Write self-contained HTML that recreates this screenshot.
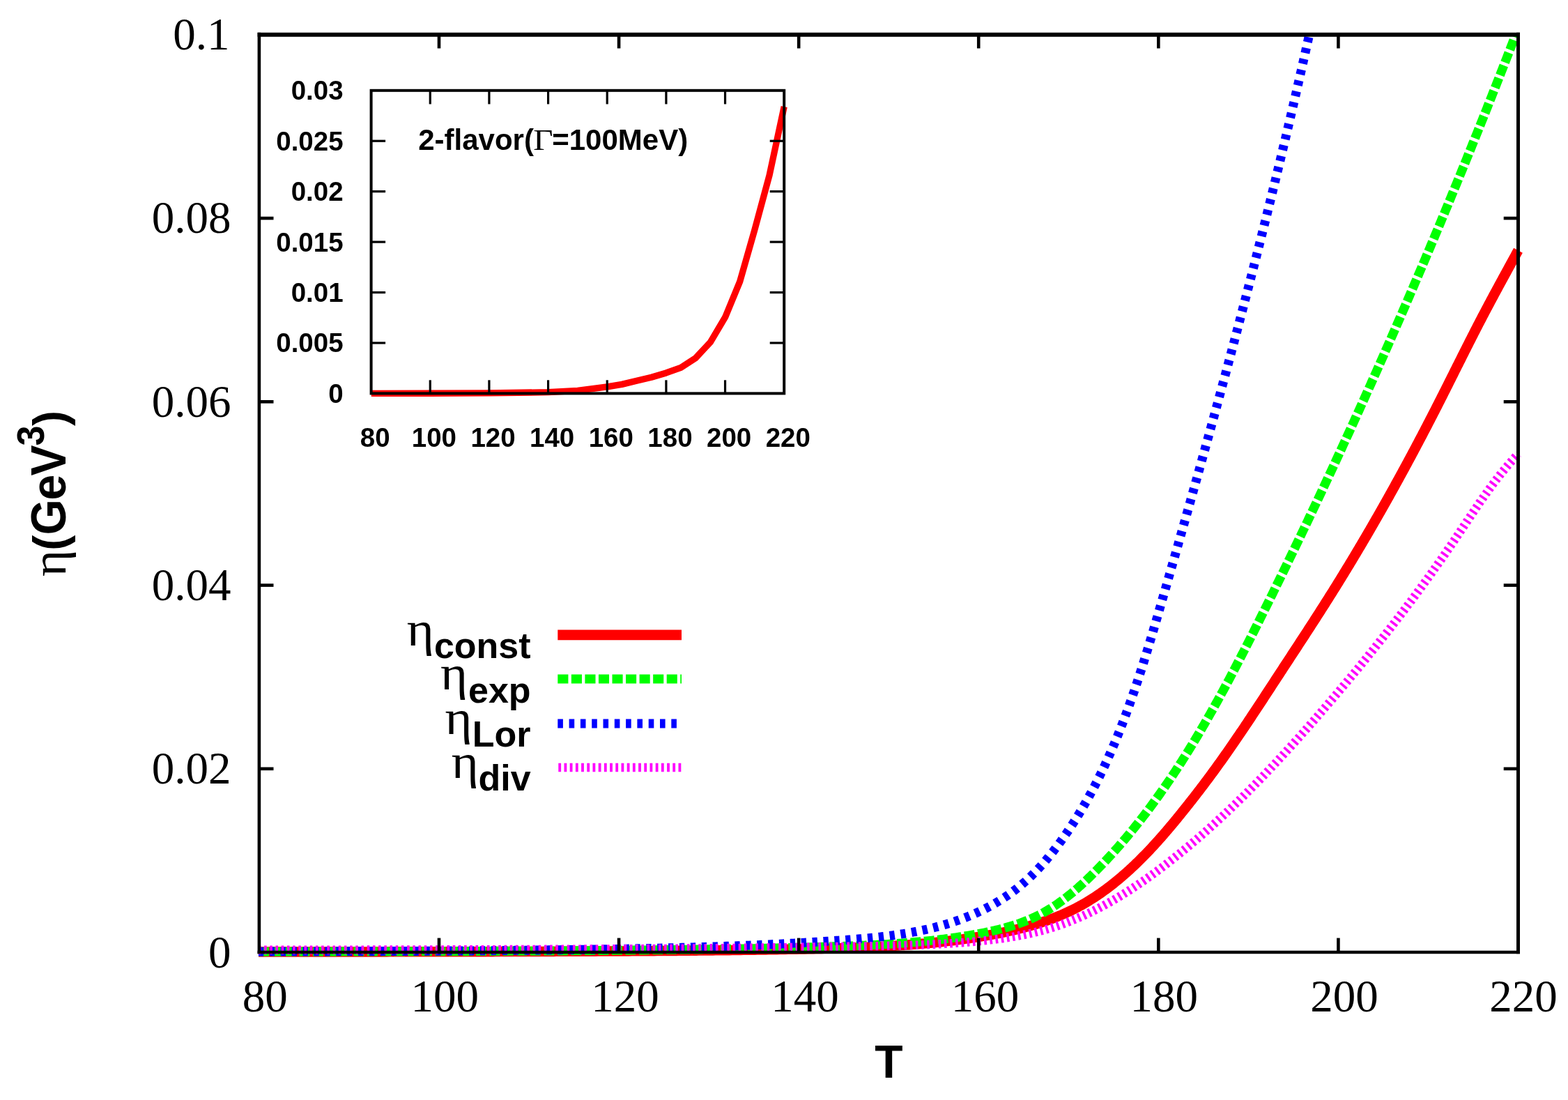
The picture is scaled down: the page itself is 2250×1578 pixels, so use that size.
<!DOCTYPE html><html><head><meta charset="utf-8"><style>html,body{margin:0;padding:0;background:#fff;width:2250px;height:1578px;overflow:hidden}svg{display:block}</style></head><body>
<svg width="2250" height="1578" viewBox="0 0 2250 1578">
<rect width="2250" height="1578" fill="#fff"/>
<defs><clipPath id="mainclip"><rect x="370.9" y="48.8" width="1818.6" height="1336.3"/></clipPath></defs>
<path d="M370.90,1365.51 L374.90,1365.51 L378.90,1365.51 L382.90,1365.50 L386.90,1365.50 L390.90,1365.50 L394.90,1365.50 L398.90,1365.50 L402.90,1365.49 L406.90,1365.49 L410.90,1365.49 L414.90,1365.49 L418.90,1365.49 L422.90,1365.48 L426.90,1365.48 L430.90,1365.48 L434.90,1365.48 L438.90,1365.47 L442.90,1365.47 L446.90,1365.47 L450.90,1365.47 L454.90,1365.46 L458.90,1365.46 L462.90,1365.46 L466.90,1365.45 L470.90,1365.45 L474.90,1365.45 L478.90,1365.45 L482.90,1365.44 L486.90,1365.44 L490.90,1365.44 L494.90,1365.43 L498.90,1365.43 L502.90,1365.43 L506.90,1365.42 L510.90,1365.42 L514.90,1365.42 L518.90,1365.41 L522.90,1365.41 L526.90,1365.41 L530.90,1365.40 L534.90,1365.40 L538.90,1365.39 L542.90,1365.39 L546.90,1365.39 L550.90,1365.38 L554.90,1365.38 L558.90,1365.37 L562.90,1365.37 L566.90,1365.36 L570.90,1365.36 L574.90,1365.35 L578.90,1365.35 L582.90,1365.34 L586.90,1365.34 L590.90,1365.33 L594.90,1365.33 L598.90,1365.32 L602.90,1365.32 L606.90,1365.31 L610.90,1365.31 L614.90,1365.30 L618.90,1365.30 L622.90,1365.29 L626.90,1365.28 L630.90,1365.28 L634.90,1365.27 L638.90,1365.26 L642.90,1365.26 L646.90,1365.25 L650.90,1365.24 L654.90,1365.24 L658.90,1365.23 L662.90,1365.22 L666.90,1365.21 L670.90,1365.21 L674.90,1365.20 L678.90,1365.19 L682.90,1365.18 L686.90,1365.17 L690.90,1365.17 L694.90,1365.16 L698.90,1365.15 L702.90,1365.14 L706.90,1365.13 L710.90,1365.12 L714.90,1365.11 L718.90,1365.10 L722.90,1365.09 L726.90,1365.08 L730.90,1365.07 L734.90,1365.06 L738.90,1365.05 L742.90,1365.04 L746.90,1365.03 L750.90,1365.02 L754.90,1365.01 L758.90,1365.00 L762.90,1364.98 L766.90,1364.97 L770.90,1364.96 L774.90,1364.95 L778.90,1364.93 L782.90,1364.92 L786.90,1364.91 L790.90,1364.89 L794.90,1364.88 L798.90,1364.86 L802.90,1364.85 L806.90,1364.84 L810.90,1364.82 L814.90,1364.81 L818.90,1364.79 L822.90,1364.77 L826.90,1364.76 L830.90,1364.74 L834.90,1364.72 L838.90,1364.71 L842.90,1364.69 L846.90,1364.67 L850.90,1364.65 L854.90,1364.63 L858.90,1364.61 L862.90,1364.59 L866.90,1364.57 L870.90,1364.55 L874.90,1364.53 L878.90,1364.51 L882.90,1364.49 L886.90,1364.47 L890.90,1364.45 L894.90,1364.42 L898.90,1364.40 L902.90,1364.38 L906.90,1364.35 L910.90,1364.33 L914.90,1364.30 L918.90,1364.28 L922.90,1364.25 L926.90,1364.23 L930.90,1364.20 L934.90,1364.17 L938.90,1364.14 L942.90,1364.11 L946.90,1364.08 L950.90,1364.05 L954.90,1364.02 L958.90,1363.99 L962.90,1363.96 L966.90,1363.93 L970.90,1363.90 L974.90,1363.86 L978.90,1363.83 L982.90,1363.79 L986.90,1363.76 L990.90,1363.72 L994.90,1363.68 L998.90,1363.65 L1002.90,1363.61 L1006.90,1363.57 L1010.90,1363.53 L1014.90,1363.49 L1018.90,1363.44 L1022.90,1363.40 L1026.90,1363.36 L1030.90,1363.31 L1034.90,1363.27 L1038.90,1363.22 L1042.90,1363.18 L1046.90,1363.13 L1050.90,1363.08 L1054.90,1363.03 L1058.90,1362.98 L1062.90,1362.93 L1066.90,1362.87 L1070.90,1362.82 L1074.90,1362.77 L1078.90,1362.71 L1082.90,1362.65 L1086.90,1362.59 L1090.90,1362.54 L1094.90,1362.47 L1098.90,1362.41 L1102.90,1362.35 L1106.90,1362.29 L1110.90,1362.22 L1114.90,1362.15 L1118.90,1362.09 L1122.90,1362.02 L1126.90,1361.95 L1130.90,1361.87 L1134.90,1361.80 L1138.90,1361.72 L1142.90,1361.65 L1146.90,1361.57 L1150.90,1361.49 L1154.90,1361.41 L1158.90,1361.33 L1162.90,1361.24 L1166.90,1361.16 L1170.90,1361.07 L1174.90,1360.98 L1178.90,1360.89 L1182.90,1360.79 L1186.90,1360.70 L1189.89,1360.63 L1192.33,1360.57 L1194.76,1360.51 L1197.20,1360.44 L1199.63,1360.38 L1202.06,1360.31 L1204.50,1360.25 L1206.93,1360.18 L1209.36,1360.10 L1211.79,1360.03 L1214.22,1359.96 L1216.65,1359.88 L1219.08,1359.80 L1221.51,1359.72 L1223.93,1359.64 L1226.36,1359.55 L1228.79,1359.47 L1231.21,1359.38 L1233.64,1359.29 L1236.06,1359.19 L1238.49,1359.10 L1240.91,1359.00 L1243.33,1358.90 L1245.76,1358.79 L1248.18,1358.69 L1250.60,1358.58 L1253.02,1358.47 L1255.44,1358.35 L1257.86,1358.23 L1260.29,1358.11 L1262.71,1357.99 L1265.13,1357.87 L1267.54,1357.74 L1269.96,1357.61 L1272.38,1357.47 L1274.80,1357.33 L1277.22,1357.19 L1279.64,1357.05 L1282.06,1356.90 L1284.48,1356.75 L1286.89,1356.59 L1289.31,1356.43 L1291.73,1356.27 L1294.15,1356.11 L1296.57,1355.94 L1298.98,1355.77 L1301.40,1355.59 L1303.82,1355.41 L1306.24,1355.23 L1308.66,1355.04 L1311.07,1354.85 L1313.49,1354.65 L1315.91,1354.45 L1318.33,1354.25 L1320.75,1354.04 L1323.17,1353.83 L1325.58,1353.61 L1328.00,1353.39 L1330.42,1353.16 L1332.84,1352.93 L1335.26,1352.70 L1337.68,1352.46 L1340.10,1352.22 L1342.52,1351.97 L1344.94,1351.72 L1347.36,1351.46 L1349.78,1351.20 L1352.21,1350.93 L1354.63,1350.66 L1357.05,1350.38 L1359.47,1350.10 L1361.90,1349.82 L1364.32,1349.52 L1366.75,1349.23 L1369.17,1348.93 L1371.60,1348.62 L1374.02,1348.31 L1376.45,1347.99 L1378.88,1347.66 L1381.30,1347.34 L1383.73,1347.00 L1386.16,1346.66 L1388.59,1346.32 L1391.02,1345.96 L1393.45,1345.61 L1395.88,1345.25 L1398.32,1344.88 L1400.75,1344.50 L1403.18,1344.12 L1405.62,1343.74 L1408.05,1343.34 L1410.48,1342.94 L1412.92,1342.54 L1415.35,1342.12 L1417.79,1341.70 L1420.22,1341.27 L1422.65,1340.84 L1425.08,1340.39 L1427.51,1339.94 L1429.94,1339.48 L1432.37,1339.01 L1434.79,1338.54 L1437.22,1338.05 L1439.64,1337.56 L1442.06,1337.05 L1444.47,1336.54 L1446.89,1336.02 L1449.30,1335.49 L1451.71,1334.94 L1454.11,1334.39 L1456.52,1333.83 L1458.91,1333.25 L1461.31,1332.67 L1463.70,1332.08 L1466.09,1331.47 L1468.47,1330.85 L1470.85,1330.22 L1473.22,1329.58 L1475.59,1328.93 L1477.96,1328.27 L1480.32,1327.59 L1482.67,1326.90 L1485.02,1326.20 L1487.37,1325.48 L1489.70,1324.76 L1492.04,1324.02 L1494.36,1323.26 L1496.68,1322.49 L1498.99,1321.71 L1501.30,1320.92 L1503.60,1320.11 L1505.89,1319.28 L1508.18,1318.44 L1510.46,1317.59 L1512.73,1316.72 L1514.99,1315.84 L1517.25,1314.94 L1519.49,1314.02 L1521.73,1313.09 L1523.96,1312.14 L1526.18,1311.18 L1528.40,1310.20 L1530.60,1309.21 L1532.80,1308.19 L1534.98,1307.16 L1537.16,1306.12 L1539.33,1305.05 L1541.48,1303.97 L1543.63,1302.87 L1545.77,1301.76 L1547.90,1300.62 L1550.01,1299.47 L1552.12,1298.30 L1554.22,1297.12 L1556.31,1295.92 L1558.39,1294.70 L1560.46,1293.47 L1562.52,1292.22 L1564.57,1290.95 L1566.61,1289.67 L1568.64,1288.37 L1570.67,1287.06 L1572.68,1285.73 L1574.68,1284.39 L1576.68,1283.04 L1578.67,1281.67 L1580.64,1280.28 L1582.61,1278.88 L1584.57,1277.47 L1586.52,1276.05 L1588.47,1274.61 L1590.40,1273.16 L1592.32,1271.69 L1594.24,1270.21 L1596.15,1268.72 L1598.05,1267.22 L1599.94,1265.70 L1601.82,1264.18 L1603.70,1262.64 L1605.56,1261.09 L1607.42,1259.53 L1609.27,1257.95 L1611.11,1256.37 L1612.95,1254.78 L1614.77,1253.17 L1616.59,1251.56 L1618.40,1249.93 L1620.21,1248.30 L1622.00,1246.65 L1623.79,1245.00 L1625.57,1243.33 L1627.34,1241.66 L1629.11,1239.98 L1630.86,1238.28 L1632.61,1236.58 L1634.36,1234.88 L1636.09,1233.16 L1637.82,1231.44 L1639.54,1229.70 L1641.26,1227.96 L1642.96,1226.22 L1644.67,1224.46 L1646.36,1222.70 L1648.05,1220.94 L1649.73,1219.16 L1651.40,1217.38 L1653.07,1215.59 L1654.73,1213.80 L1656.38,1212.00 L1658.03,1210.20 L1659.67,1208.39 L1661.30,1206.57 L1662.93,1204.75 L1664.55,1202.93 L1666.17,1201.10 L1667.78,1199.26 L1669.38,1197.42 L1670.98,1195.58 L1672.58,1193.73 L1674.17,1191.88 L1675.75,1190.02 L1677.33,1188.16 L1678.91,1186.29 L1680.48,1184.43 L1682.04,1182.55 L1683.60,1180.68 L1685.16,1178.80 L1686.71,1176.92 L1688.26,1175.04 L1689.80,1173.15 L1691.34,1171.26 L1692.88,1169.37 L1694.41,1167.47 L1695.94,1165.57 L1697.47,1163.68 L1698.99,1161.77 L1700.51,1159.87 L1702.03,1157.97 L1703.54,1156.06 L1705.06,1154.15 L1706.56,1152.24 L1708.07,1150.33 L1709.57,1148.42 L1711.07,1146.51 L1712.57,1144.59 L1714.07,1142.68 L1715.56,1140.76 L1717.05,1138.84 L1718.53,1136.91 L1720.01,1134.99 L1721.49,1133.07 L1722.97,1131.14 L1724.44,1129.21 L1725.91,1127.28 L1727.38,1125.34 L1728.84,1123.41 L1730.30,1121.47 L1731.75,1119.53 L1733.20,1117.59 L1734.65,1115.65 L1736.09,1113.70 L1737.53,1111.75 L1738.97,1109.80 L1740.40,1107.85 L1741.83,1105.90 L1743.26,1103.94 L1744.68,1101.98 L1746.10,1100.02 L1747.52,1098.06 L1748.93,1096.09 L1750.34,1094.13 L1751.75,1092.16 L1753.16,1090.19 L1754.56,1088.22 L1755.95,1086.24 L1757.35,1084.27 L1758.74,1082.29 L1760.13,1080.31 L1761.52,1078.33 L1762.90,1076.35 L1764.29,1074.37 L1765.66,1072.38 L1767.04,1070.39 L1768.42,1068.41 L1769.79,1066.42 L1771.16,1064.42 L1772.53,1062.43 L1773.89,1060.44 L1775.25,1058.44 L1776.62,1056.45 L1777.97,1054.45 L1779.33,1052.45 L1780.69,1050.45 L1782.04,1048.45 L1783.39,1046.44 L1784.74,1044.44 L1786.09,1042.43 L1787.44,1040.43 L1788.78,1038.42 L1790.12,1036.41 L1791.47,1034.40 L1792.81,1032.39 L1794.14,1030.38 L1795.48,1028.37 L1796.82,1026.35 L1798.15,1024.34 L1799.49,1022.32 L1800.82,1020.31 L1802.15,1018.29 L1803.48,1016.27 L1804.81,1014.26 L1806.14,1012.24 L1807.47,1010.22 L1808.80,1008.20 L1810.13,1006.18 L1811.45,1004.16 L1812.78,1002.14 L1814.10,1000.11 L1815.43,998.09 L1816.75,996.07 L1818.08,994.04 L1819.40,992.02 L1820.72,990.00 L1822.05,987.97 L1823.37,985.95 L1824.69,983.92 L1826.01,981.90 L1827.34,979.87 L1828.66,977.85 L1829.98,975.82 L1831.30,973.79 L1832.63,971.77 L1833.95,969.74 L1835.28,967.72 L1836.60,965.69 L1837.92,963.66 L1839.25,961.64 L1840.58,959.61 L1841.90,957.59 L1843.23,955.56 L1844.55,953.53 L1845.88,951.51 L1847.21,949.48 L1848.54,947.46 L1849.86,945.43 L1851.19,943.40 L1852.52,941.37 L1853.85,939.35 L1855.17,937.32 L1856.50,935.29 L1857.83,933.26 L1859.15,931.24 L1860.48,929.21 L1861.81,927.18 L1863.14,925.15 L1864.46,923.12 L1865.79,921.09 L1867.11,919.06 L1868.44,917.03 L1869.77,914.99 L1871.09,912.96 L1872.41,910.93 L1873.74,908.89 L1875.06,906.86 L1876.38,904.82 L1877.71,902.79 L1879.03,900.75 L1880.35,898.72 L1881.67,896.68 L1882.99,894.64 L1884.31,892.60 L1885.62,890.56 L1886.94,888.52 L1888.26,886.48 L1889.57,884.44 L1890.88,882.39 L1892.20,880.35 L1893.51,878.30 L1894.82,876.26 L1896.13,874.21 L1897.44,872.16 L1898.75,870.11 L1900.05,868.06 L1901.36,866.01 L1902.66,863.96 L1903.96,861.90 L1905.26,859.85 L1906.56,857.79 L1907.86,855.73 L1909.16,853.67 L1910.45,851.61 L1911.75,849.55 L1913.04,847.49 L1914.33,845.43 L1915.62,843.36 L1916.91,841.30 L1918.19,839.23 L1919.48,837.16 L1920.76,835.09 L1922.04,833.02 L1923.32,830.94 L1924.60,828.87 L1925.87,826.80 L1927.15,824.72 L1928.42,822.64 L1929.69,820.56 L1930.96,818.48 L1932.23,816.40 L1933.50,814.32 L1934.77,812.23 L1936.03,810.15 L1937.29,808.06 L1938.55,805.98 L1939.81,803.89 L1941.07,801.80 L1942.33,799.71 L1943.58,797.62 L1944.83,795.52 L1946.09,793.43 L1947.34,791.33 L1948.58,789.24 L1949.83,787.14 L1951.08,785.04 L1952.32,782.94 L1953.56,780.84 L1954.80,778.74 L1956.04,776.64 L1957.28,774.53 L1958.52,772.43 L1959.75,770.32 L1960.99,768.22 L1962.22,766.11 L1963.45,764.00 L1964.68,761.89 L1965.91,759.78 L1967.13,757.66 L1968.36,755.55 L1969.58,753.44 L1970.80,751.32 L1972.02,749.21 L1973.24,747.09 L1974.46,744.97 L1975.67,742.85 L1976.88,740.73 L1978.10,738.61 L1979.31,736.49 L1980.52,734.37 L1981.73,732.24 L1982.93,730.12 L1984.14,727.99 L1985.34,725.87 L1986.54,723.74 L1987.74,721.61 L1988.94,719.48 L1990.14,717.35 L1991.34,715.22 L1992.53,713.09 L1993.72,710.95 L1994.91,708.82 L1996.10,706.69 L1997.29,704.55 L1998.48,702.41 L1999.67,700.28 L2000.85,698.14 L2002.03,696.00 L2003.21,693.86 L2004.39,691.72 L2005.57,689.58 L2006.75,687.44 L2007.93,685.30 L2009.10,683.15 L2010.27,681.01 L2011.44,678.86 L2012.61,676.72 L2013.78,674.57 L2014.95,672.42 L2016.11,670.28 L2017.28,668.13 L2018.44,665.98 L2019.60,663.83 L2020.76,661.68 L2021.92,659.53 L2023.08,657.37 L2024.23,655.22 L2025.39,653.07 L2026.54,650.91 L2027.69,648.76 L2028.84,646.60 L2029.99,644.45 L2031.13,642.29 L2032.28,640.13 L2033.42,637.97 L2034.57,635.81 L2035.71,633.66 L2036.85,631.49 L2037.98,629.33 L2039.12,627.17 L2040.26,625.01 L2041.39,622.85 L2042.52,620.69 L2043.65,618.52 L2044.78,616.36 L2045.91,614.19 L2047.04,612.03 L2048.17,609.86 L2049.29,607.70 L2050.41,605.53 L2051.53,603.36 L2052.65,601.19 L2053.77,599.03 L2054.89,596.86 L2056.01,594.69 L2057.12,592.52 L2058.23,590.35 L2059.34,588.18 L2060.45,586.00 L2061.56,583.83 L2062.67,581.66 L2063.78,579.49 L2064.88,577.31 L2065.99,575.14 L2067.09,572.97 L2068.19,570.79 L2069.29,568.62 L2070.39,566.44 L2071.48,564.27 L2072.58,562.09 L2073.68,559.91 L2074.77,557.74 L2075.87,555.56 L2076.96,553.39 L2078.05,551.21 L2079.15,549.03 L2080.24,546.85 L2081.33,544.68 L2082.42,542.50 L2083.51,540.32 L2084.60,538.15 L2085.69,535.97 L2086.78,533.79 L2087.87,531.61 L2088.96,529.44 L2090.05,527.26 L2091.14,525.08 L2092.23,522.91 L2093.33,520.73 L2094.42,518.55 L2095.51,516.38 L2096.60,514.20 L2097.69,512.03 L2098.78,509.85 L2099.88,507.67 L2100.97,505.50 L2102.07,503.33 L2103.16,501.15 L2104.26,498.98 L2105.36,496.80 L2106.45,494.63 L2107.55,492.46 L2108.65,490.29 L2109.76,488.12 L2110.86,485.94 L2111.96,483.77 L2113.07,481.61 L2114.18,479.44 L2115.28,477.27 L2116.39,475.10 L2117.51,472.93 L2118.62,470.77 L2119.73,468.60 L2120.85,466.44 L2121.97,464.27 L2123.09,462.11 L2124.21,459.95 L2125.34,457.78 L2126.46,455.62 L2127.59,453.46 L2128.72,451.30 L2129.86,449.15 L2130.99,446.99 L2132.13,444.83 L2133.27,442.68 L2134.41,440.52 L2135.55,438.37 L2136.70,436.22 L2137.85,434.06 L2139.00,431.91 L2140.15,429.76 L2141.30,427.61 L2142.45,425.46 L2143.61,423.31 L2144.76,421.17 L2145.92,419.02 L2147.08,416.87 L2148.24,414.72 L2149.40,412.58 L2150.56,410.43 L2151.72,408.29 L2152.89,406.14 L2154.05,404.00 L2155.22,401.86 L2156.38,399.71 L2157.55,397.57 L2158.72,395.43 L2159.88,393.29 L2161.05,391.15 L2162.22,389.01 L2163.39,386.86 L2164.56,384.72 L2165.73,382.58 L2166.90,380.44 L2168.07,378.30 L2169.24,376.16 L2170.41,374.02 L2171.57,371.88 L2172.74,369.75 L2173.91,367.61 L2175.08,365.47 L2176.25,363.33 L2177.41,361.19 L2178.50,359.20 L2178.50,359.20" fill="none" stroke="#ff0000" stroke-width="14.5" stroke-linejoin="round" clip-path="url(#mainclip)"/>
<path d="M370.90,1365.30 L374.90,1365.30 L378.90,1365.29 L382.90,1365.29 L386.90,1365.28 L390.90,1365.28 L394.90,1365.27 L398.90,1365.27 L402.90,1365.26 L406.90,1365.26 L410.90,1365.25 L414.90,1365.25 L418.90,1365.24 L422.90,1365.23 L426.90,1365.23 L430.90,1365.22 L434.90,1365.22 L438.90,1365.21 L442.90,1365.20 L446.90,1365.20 L450.90,1365.19 L454.90,1365.19 L458.90,1365.18 L462.90,1365.17 L466.90,1365.17 L470.90,1365.16 L474.90,1365.15 L478.90,1365.14 L482.90,1365.14 L486.90,1365.13 L490.90,1365.12 L494.90,1365.11 L498.90,1365.11 L502.90,1365.10 L506.90,1365.09 L510.90,1365.08 L514.90,1365.07 L518.90,1365.07 L522.90,1365.06 L526.90,1365.05 L530.90,1365.04 L534.90,1365.03 L538.90,1365.02 L542.90,1365.01 L546.90,1365.00 L550.90,1364.99 L554.90,1364.98 L558.90,1364.97 L562.90,1364.96 L566.90,1364.95 L570.90,1364.94 L574.90,1364.93 L578.90,1364.92 L582.90,1364.91 L586.90,1364.90 L590.90,1364.89 L594.90,1364.88 L598.90,1364.87 L602.90,1364.86 L606.90,1364.84 L610.90,1364.83 L614.90,1364.82 L618.90,1364.81 L622.90,1364.79 L626.90,1364.78 L630.90,1364.77 L634.90,1364.76 L638.90,1364.74 L642.90,1364.73 L646.90,1364.71 L650.90,1364.70 L654.90,1364.69 L658.90,1364.67 L662.90,1364.66 L666.90,1364.64 L670.90,1364.63 L674.90,1364.61 L678.90,1364.59 L682.90,1364.58 L686.90,1364.56 L690.90,1364.55 L694.90,1364.53 L698.90,1364.51 L702.90,1364.49 L706.90,1364.48 L710.90,1364.46 L714.90,1364.44 L718.90,1364.42 L722.90,1364.40 L726.90,1364.38 L730.90,1364.36 L734.90,1364.34 L738.90,1364.32 L742.90,1364.30 L746.90,1364.28 L750.90,1364.26 L754.90,1364.24 L758.90,1364.22 L762.90,1364.20 L766.90,1364.18 L770.90,1364.15 L774.90,1364.13 L778.90,1364.11 L782.90,1364.08 L786.90,1364.06 L790.90,1364.03 L794.90,1364.01 L798.90,1363.98 L802.90,1363.96 L806.90,1363.93 L810.90,1363.90 L814.90,1363.88 L818.90,1363.85 L822.90,1363.82 L826.90,1363.79 L830.90,1363.77 L834.90,1363.74 L838.90,1363.71 L842.90,1363.68 L846.90,1363.65 L850.90,1363.61 L854.90,1363.58 L858.90,1363.55 L862.90,1363.52 L866.90,1363.48 L870.90,1363.45 L874.90,1363.42 L878.90,1363.38 L882.90,1363.35 L886.90,1363.31 L890.90,1363.27 L894.90,1363.24 L898.90,1363.20 L902.90,1363.16 L906.90,1363.12 L910.90,1363.08 L914.90,1363.04 L918.90,1363.00 L922.90,1362.96 L926.90,1362.92 L930.90,1362.87 L934.90,1362.83 L938.90,1362.79 L942.90,1362.74 L946.90,1362.70 L950.90,1362.65 L954.90,1362.60 L958.90,1362.56 L962.90,1362.51 L966.90,1362.46 L970.90,1362.41 L974.90,1362.36 L978.90,1362.30 L982.90,1362.25 L986.90,1362.20 L990.90,1362.14 L994.90,1362.09 L998.90,1362.03 L1002.90,1361.98 L1006.90,1361.92 L1010.90,1361.86 L1014.90,1361.80 L1018.90,1361.74 L1022.90,1361.68 L1026.90,1361.62 L1030.90,1361.55 L1034.90,1361.49 L1038.90,1361.42 L1042.90,1361.36 L1046.90,1361.29 L1050.90,1361.22 L1054.90,1361.15 L1058.90,1361.08 L1062.90,1361.01 L1066.90,1360.93 L1070.90,1360.86 L1074.90,1360.78 L1078.90,1360.71 L1082.90,1360.63 L1086.90,1360.55 L1090.90,1360.47 L1094.90,1360.39 L1098.90,1360.30 L1102.90,1360.22 L1106.90,1360.13 L1110.90,1360.05 L1114.90,1359.96 L1118.90,1359.87 L1122.90,1359.78 L1126.90,1359.68 L1130.90,1359.59 L1134.90,1359.49 L1138.90,1359.39 L1142.90,1359.30 L1146.90,1359.19 L1150.90,1359.09 L1154.90,1358.99 L1158.90,1358.88 L1162.90,1358.78 L1166.90,1358.67 L1170.90,1358.56 L1174.90,1358.44 L1178.90,1358.33 L1182.90,1358.21 L1186.90,1358.10 L1190.06,1358.00 L1192.84,1357.92 L1195.62,1357.83 L1198.40,1357.75 L1201.18,1357.66 L1203.96,1357.57 L1206.74,1357.48 L1209.53,1357.38 L1212.31,1357.29 L1215.09,1357.19 L1217.87,1357.09 L1220.66,1356.99 L1223.44,1356.88 L1226.23,1356.77 L1229.01,1356.66 L1231.79,1356.55 L1234.58,1356.44 L1237.36,1356.32 L1240.15,1356.20 L1242.93,1356.07 L1245.72,1355.94 L1248.51,1355.81 L1251.29,1355.68 L1254.08,1355.54 L1256.87,1355.39 L1259.65,1355.25 L1262.44,1355.10 L1265.23,1354.94 L1268.02,1354.78 L1270.81,1354.62 L1273.60,1354.45 L1276.39,1354.28 L1279.17,1354.10 L1281.96,1353.92 L1284.75,1353.73 L1287.54,1353.54 L1290.33,1353.34 L1293.12,1353.14 L1295.92,1352.93 L1298.71,1352.72 L1301.50,1352.50 L1304.29,1352.27 L1307.08,1352.04 L1309.87,1351.81 L1312.67,1351.56 L1315.46,1351.31 L1318.25,1351.06 L1321.04,1350.80 L1323.84,1350.53 L1326.63,1350.25 L1329.42,1349.97 L1332.22,1349.68 L1335.01,1349.39 L1337.81,1349.09 L1340.60,1348.78 L1343.40,1348.46 L1346.19,1348.13 L1348.99,1347.80 L1351.78,1347.46 L1354.58,1347.11 L1357.37,1346.76 L1360.17,1346.40 L1362.96,1346.02 L1365.76,1345.64 L1368.56,1345.26 L1371.35,1344.86 L1374.15,1344.45 L1376.95,1344.04 L1379.74,1343.62 L1382.54,1343.19 L1385.34,1342.75 L1388.13,1342.30 L1390.93,1341.84 L1393.73,1341.37 L1396.53,1340.89 L1399.32,1340.40 L1402.12,1339.90 L1404.91,1339.39 L1407.70,1338.86 L1410.49,1338.33 L1413.28,1337.78 L1416.06,1337.21 L1418.84,1336.63 L1421.61,1336.04 L1424.38,1335.42 L1427.14,1334.80 L1429.89,1334.15 L1432.64,1333.48 L1435.38,1332.80 L1438.11,1332.10 L1440.83,1331.37 L1443.55,1330.63 L1446.25,1329.87 L1448.95,1329.08 L1451.63,1328.27 L1454.30,1327.43 L1456.96,1326.58 L1459.61,1325.69 L1462.24,1324.79 L1464.87,1323.85 L1467.47,1322.89 L1470.07,1321.90 L1472.65,1320.89 L1475.21,1319.84 L1477.76,1318.77 L1480.29,1317.67 L1482.80,1316.53 L1485.30,1315.37 L1487.77,1314.17 L1490.23,1312.94 L1492.68,1311.69 L1495.10,1310.40 L1497.51,1309.08 L1499.90,1307.73 L1502.27,1306.36 L1504.63,1304.95 L1506.97,1303.52 L1509.30,1302.06 L1511.61,1300.58 L1513.90,1299.07 L1516.18,1297.54 L1518.44,1295.98 L1520.69,1294.40 L1522.92,1292.80 L1525.14,1291.17 L1527.35,1289.52 L1529.54,1287.86 L1531.72,1286.17 L1533.89,1284.46 L1536.04,1282.73 L1538.18,1280.98 L1540.31,1279.22 L1542.42,1277.43 L1544.52,1275.63 L1546.62,1273.82 L1548.69,1271.99 L1550.76,1270.14 L1552.82,1268.28 L1554.87,1266.40 L1556.90,1264.52 L1558.93,1262.61 L1560.94,1260.70 L1562.95,1258.78 L1564.95,1256.84 L1566.93,1254.90 L1568.91,1252.94 L1570.88,1250.98 L1572.84,1249.00 L1574.79,1247.02 L1576.73,1245.03 L1578.67,1243.04 L1580.60,1241.04 L1582.52,1239.03 L1584.43,1237.02 L1586.34,1234.99 L1588.24,1232.97 L1590.13,1230.93 L1592.01,1228.89 L1593.88,1226.85 L1595.75,1224.80 L1597.61,1222.74 L1599.46,1220.67 L1601.31,1218.60 L1603.15,1216.53 L1604.98,1214.45 L1606.80,1212.36 L1608.62,1210.26 L1610.43,1208.16 L1612.23,1206.06 L1614.03,1203.95 L1615.82,1201.83 L1617.60,1199.71 L1619.38,1197.58 L1621.15,1195.44 L1622.91,1193.30 L1624.66,1191.16 L1626.41,1189.01 L1628.15,1186.85 L1629.89,1184.69 L1631.62,1182.52 L1633.34,1180.35 L1635.05,1178.17 L1636.76,1175.99 L1638.47,1173.80 L1640.16,1171.61 L1641.85,1169.41 L1643.54,1167.21 L1645.21,1165.00 L1646.89,1162.79 L1648.55,1160.57 L1650.21,1158.35 L1651.86,1156.12 L1653.51,1153.88 L1655.15,1151.65 L1656.79,1149.40 L1658.42,1147.16 L1660.04,1144.91 L1661.66,1142.65 L1663.27,1140.39 L1664.88,1138.12 L1666.48,1135.85 L1668.08,1133.58 L1669.67,1131.30 L1671.25,1129.02 L1672.83,1126.73 L1674.40,1124.44 L1675.97,1122.14 L1677.53,1119.84 L1679.09,1117.54 L1680.64,1115.23 L1682.19,1112.92 L1683.73,1110.60 L1685.27,1108.28 L1686.80,1105.95 L1688.33,1103.63 L1689.85,1101.29 L1691.36,1098.96 L1692.88,1096.62 L1694.38,1094.27 L1695.88,1091.93 L1697.38,1089.57 L1698.87,1087.22 L1700.36,1084.86 L1701.84,1082.50 L1703.32,1080.13 L1704.80,1077.77 L1706.27,1075.39 L1707.73,1073.02 L1709.19,1070.64 L1710.65,1068.26 L1712.10,1065.87 L1713.55,1063.48 L1714.99,1061.09 L1716.43,1058.69 L1717.86,1056.30 L1719.29,1053.90 L1720.72,1051.49 L1722.14,1049.08 L1723.56,1046.67 L1724.97,1044.26 L1726.38,1041.84 L1727.79,1039.43 L1729.19,1037.00 L1730.59,1034.58 L1731.99,1032.15 L1733.38,1029.72 L1734.77,1027.29 L1736.15,1024.86 L1737.53,1022.42 L1738.91,1019.98 L1740.28,1017.54 L1741.65,1015.09 L1743.02,1012.65 L1744.38,1010.20 L1745.74,1007.75 L1747.10,1005.29 L1748.45,1002.84 L1749.80,1000.38 L1751.15,997.92 L1752.49,995.46 L1753.83,992.99 L1755.17,990.53 L1756.51,988.06 L1757.84,985.59 L1759.17,983.12 L1760.49,980.64 L1761.82,978.17 L1763.14,975.69 L1764.46,973.21 L1765.77,970.73 L1767.08,968.25 L1768.39,965.77 L1769.70,963.28 L1771.01,960.79 L1772.31,958.31 L1773.61,955.82 L1774.91,953.32 L1776.20,950.83 L1777.49,948.34 L1778.79,945.84 L1780.07,943.35 L1781.36,940.85 L1782.65,938.35 L1783.93,935.85 L1785.21,933.35 L1786.49,930.85 L1787.76,928.35 L1789.04,925.85 L1790.31,923.34 L1791.58,920.84 L1792.85,918.33 L1794.12,915.82 L1795.38,913.32 L1796.65,910.81 L1797.91,908.30 L1799.17,905.79 L1800.43,903.28 L1801.68,900.77 L1802.94,898.26 L1804.20,895.75 L1805.45,893.24 L1806.70,890.73 L1807.95,888.22 L1809.20,885.70 L1810.45,883.19 L1811.70,880.68 L1812.94,878.17 L1814.19,875.65 L1815.43,873.14 L1816.68,870.63 L1817.92,868.11 L1819.16,865.60 L1820.40,863.09 L1821.64,860.58 L1822.88,858.06 L1824.12,855.55 L1825.35,853.04 L1826.59,850.52 L1827.82,848.01 L1829.06,845.50 L1830.29,842.98 L1831.52,840.47 L1832.75,837.96 L1833.98,835.44 L1835.21,832.93 L1836.44,830.42 L1837.67,827.90 L1838.89,825.39 L1840.12,822.88 L1841.34,820.36 L1842.56,817.85 L1843.79,815.33 L1845.01,812.82 L1846.23,810.31 L1847.45,807.79 L1848.67,805.28 L1849.88,802.76 L1851.10,800.25 L1852.31,797.74 L1853.53,795.22 L1854.74,792.71 L1855.96,790.19 L1857.17,787.68 L1858.38,785.16 L1859.59,782.65 L1860.80,780.13 L1862.01,777.62 L1863.21,775.10 L1864.42,772.59 L1865.62,770.07 L1866.83,767.56 L1868.03,765.04 L1869.23,762.53 L1870.44,760.01 L1871.64,757.50 L1872.84,754.98 L1874.04,752.47 L1875.23,749.95 L1876.43,747.43 L1877.63,744.92 L1878.82,742.40 L1880.02,739.89 L1881.21,737.37 L1882.40,734.85 L1883.59,732.34 L1884.79,729.82 L1885.98,727.30 L1887.16,724.79 L1888.35,722.27 L1889.54,719.75 L1890.73,717.24 L1891.91,714.72 L1893.10,712.20 L1894.28,709.68 L1895.46,707.17 L1896.64,704.65 L1897.82,702.13 L1899.00,699.61 L1900.18,697.09 L1901.36,694.58 L1902.54,692.06 L1903.72,689.54 L1904.89,687.02 L1906.07,684.50 L1907.24,681.98 L1908.41,679.46 L1909.59,676.94 L1910.76,674.42 L1911.93,671.91 L1913.10,669.39 L1914.27,666.87 L1915.43,664.35 L1916.60,661.83 L1917.77,659.31 L1918.93,656.79 L1920.10,654.27 L1921.26,651.74 L1922.42,649.22 L1923.59,646.70 L1924.75,644.18 L1925.91,641.66 L1927.07,639.14 L1928.22,636.62 L1929.38,634.10 L1930.54,631.57 L1931.69,629.05 L1932.85,626.53 L1934.00,624.01 L1935.16,621.49 L1936.31,618.96 L1937.46,616.44 L1938.61,613.92 L1939.76,611.39 L1940.91,608.87 L1942.06,606.35 L1943.21,603.82 L1944.35,601.30 L1945.50,598.77 L1946.65,596.25 L1947.79,593.73 L1948.93,591.20 L1950.08,588.68 L1951.22,586.15 L1952.36,583.63 L1953.50,581.10 L1954.64,578.58 L1955.78,576.05 L1956.92,573.52 L1958.05,571.00 L1959.19,568.47 L1960.32,565.94 L1961.46,563.42 L1962.59,560.89 L1963.72,558.36 L1964.86,555.84 L1965.99,553.31 L1967.12,550.78 L1968.25,548.25 L1969.38,545.73 L1970.51,543.20 L1971.63,540.67 L1972.76,538.14 L1973.89,535.61 L1975.01,533.08 L1976.13,530.55 L1977.26,528.02 L1978.38,525.49 L1979.50,522.96 L1980.62,520.43 L1981.74,517.90 L1982.86,515.37 L1983.98,512.84 L1985.10,510.31 L1986.22,507.78 L1987.33,505.24 L1988.45,502.71 L1989.56,500.18 L1990.68,497.65 L1991.79,495.12 L1992.90,492.58 L1994.02,490.05 L1995.13,487.52 L1996.24,484.98 L1997.35,482.45 L1998.46,479.91 L1999.56,477.38 L2000.67,474.85 L2001.78,472.31 L2002.88,469.78 L2003.99,467.24 L2005.09,464.70 L2006.20,462.17 L2007.30,459.63 L2008.40,457.10 L2009.50,454.56 L2010.60,452.02 L2011.70,449.48 L2012.80,446.95 L2013.90,444.41 L2015.00,441.87 L2016.09,439.33 L2017.19,436.79 L2018.28,434.26 L2019.38,431.72 L2020.47,429.18 L2021.57,426.64 L2022.66,424.10 L2023.75,421.56 L2024.84,419.02 L2025.93,416.48 L2027.02,413.94 L2028.11,411.39 L2029.20,408.85 L2030.28,406.31 L2031.37,403.77 L2032.46,401.23 L2033.54,398.68 L2034.63,396.14 L2035.71,393.60 L2036.79,391.05 L2037.88,388.51 L2038.96,385.96 L2040.04,383.42 L2041.12,380.88 L2042.20,378.33 L2043.28,375.78 L2044.35,373.24 L2045.43,370.69 L2046.51,368.15 L2047.58,365.60 L2048.66,363.05 L2049.73,360.51 L2050.81,357.96 L2051.88,355.41 L2052.95,352.86 L2054.03,350.31 L2055.10,347.76 L2056.17,345.21 L2057.24,342.67 L2058.31,340.12 L2059.38,337.57 L2060.44,335.01 L2061.51,332.46 L2062.58,329.91 L2063.64,327.36 L2064.71,324.81 L2065.77,322.26 L2066.84,319.70 L2067.90,317.15 L2068.96,314.60 L2070.02,312.04 L2071.08,309.49 L2072.14,306.94 L2073.20,304.38 L2074.26,301.83 L2075.32,299.27 L2076.38,296.72 L2077.44,294.16 L2078.49,291.60 L2079.55,289.05 L2080.60,286.49 L2081.66,283.93 L2082.71,281.37 L2083.77,278.82 L2084.82,276.26 L2085.87,273.70 L2086.92,271.14 L2087.97,268.58 L2089.02,266.02 L2090.07,263.46 L2091.12,260.90 L2092.17,258.34 L2093.22,255.78 L2094.26,253.22 L2095.31,250.65 L2096.35,248.09 L2097.40,245.53 L2098.44,242.96 L2099.49,240.40 L2100.53,237.84 L2101.57,235.27 L2102.61,232.71 L2103.66,230.14 L2104.70,227.58 L2105.74,225.01 L2106.78,222.44 L2107.81,219.88 L2108.85,217.31 L2109.89,214.74 L2110.93,212.18 L2111.96,209.61 L2113.00,207.04 L2114.03,204.47 L2115.07,201.90 L2116.10,199.33 L2117.14,196.76 L2118.17,194.19 L2119.20,191.62 L2120.23,189.05 L2121.26,186.47 L2122.29,183.90 L2123.32,181.33 L2124.35,178.76 L2125.38,176.18 L2126.41,173.61 L2127.43,171.03 L2128.46,168.46 L2129.49,165.88 L2130.51,163.31 L2131.54,160.73 L2132.56,158.15 L2133.59,155.58 L2134.61,153.00 L2135.63,150.42 L2136.65,147.84 L2137.68,145.26 L2138.70,142.69 L2139.72,140.11 L2140.74,137.53 L2141.76,134.95 L2142.77,132.36 L2143.79,129.78 L2144.81,127.20 L2145.83,124.62 L2146.84,122.04 L2147.86,119.45 L2148.87,116.87 L2149.89,114.29 L2150.90,111.70 L2151.92,109.12 L2152.93,106.53 L2153.94,103.94 L2154.95,101.36 L2155.97,98.77 L2156.98,96.18 L2157.99,93.60 L2159.00,91.01 L2160.01,88.42 L2161.01,85.83 L2162.02,83.24 L2163.03,80.65 L2164.04,78.06 L2165.04,75.47 L2166.05,72.88 L2167.06,70.29 L2168.06,67.69 L2169.06,65.10 L2170.07,62.51 L2171.07,59.91 L2172.07,57.32 L2173.08,54.72 L2174.08,52.13 L2174.98,49.80 L2174.98,49.80" fill="none" stroke="#00ff00" stroke-width="13" stroke-dasharray="15,4.5" stroke-linejoin="round" clip-path="url(#mainclip)"/>
<path d="M370.90,1365.14 L374.90,1365.14 L378.90,1365.13 L382.90,1365.12 L386.90,1365.11 L390.90,1365.10 L394.90,1365.09 L398.90,1365.08 L402.90,1365.08 L406.90,1365.07 L410.90,1365.06 L414.90,1365.05 L418.90,1365.04 L422.90,1365.03 L426.90,1365.02 L430.90,1365.01 L434.90,1365.00 L438.90,1364.99 L442.90,1364.98 L446.90,1364.97 L450.90,1364.96 L454.90,1364.94 L458.90,1364.93 L462.90,1364.92 L466.90,1364.91 L470.90,1364.90 L474.90,1364.89 L478.90,1364.87 L482.90,1364.86 L486.90,1364.85 L490.90,1364.83 L494.90,1364.82 L498.90,1364.81 L502.90,1364.79 L506.90,1364.78 L510.90,1364.77 L514.90,1364.75 L518.90,1364.74 L522.90,1364.72 L526.90,1364.71 L530.90,1364.69 L534.90,1364.67 L538.90,1364.66 L542.90,1364.64 L546.90,1364.63 L550.90,1364.61 L554.90,1364.59 L558.90,1364.57 L562.90,1364.56 L566.90,1364.54 L570.90,1364.52 L574.90,1364.50 L578.90,1364.48 L582.90,1364.46 L586.90,1364.44 L590.90,1364.42 L594.90,1364.40 L598.90,1364.38 L602.90,1364.36 L606.90,1364.34 L610.90,1364.32 L614.90,1364.29 L618.90,1364.27 L622.90,1364.25 L626.90,1364.22 L630.90,1364.20 L634.90,1364.18 L638.90,1364.15 L642.90,1364.13 L646.90,1364.10 L650.90,1364.07 L654.90,1364.05 L658.90,1364.02 L662.90,1363.99 L666.90,1363.97 L670.90,1363.94 L674.90,1363.91 L678.90,1363.88 L682.90,1363.85 L686.90,1363.82 L690.90,1363.79 L694.90,1363.76 L698.90,1363.72 L702.90,1363.69 L706.90,1363.66 L710.90,1363.62 L714.90,1363.59 L718.90,1363.56 L722.90,1363.52 L726.90,1363.48 L730.90,1363.45 L734.90,1363.41 L738.90,1363.37 L742.90,1363.33 L746.90,1363.29 L750.90,1363.25 L754.90,1363.21 L758.90,1363.17 L762.90,1363.13 L766.90,1363.09 L770.90,1363.04 L774.90,1363.00 L778.90,1362.95 L782.90,1362.91 L786.90,1362.86 L790.90,1362.81 L794.90,1362.76 L798.90,1362.71 L802.90,1362.66 L806.90,1362.61 L810.90,1362.56 L814.90,1362.51 L818.90,1362.46 L822.90,1362.40 L826.90,1362.35 L830.90,1362.29 L834.90,1362.23 L838.90,1362.17 L842.90,1362.11 L846.90,1362.05 L850.90,1361.99 L854.90,1361.93 L858.90,1361.86 L862.90,1361.80 L866.90,1361.73 L870.90,1361.67 L874.90,1361.60 L878.90,1361.53 L882.90,1361.46 L886.90,1361.39 L890.90,1361.31 L894.90,1361.24 L898.90,1361.16 L902.90,1361.08 L906.90,1361.01 L910.90,1360.93 L914.90,1360.85 L918.90,1360.76 L922.90,1360.68 L926.90,1360.59 L930.90,1360.51 L934.90,1360.42 L938.90,1360.33 L942.90,1360.24 L946.90,1360.14 L950.90,1360.05 L954.90,1359.95 L958.90,1359.85 L962.90,1359.75 L966.90,1359.65 L970.90,1359.55 L974.90,1359.44 L978.90,1359.34 L982.90,1359.23 L986.90,1359.12 L990.90,1359.00 L994.90,1358.89 L998.90,1358.77 L1002.90,1358.65 L1006.90,1358.53 L1010.90,1358.41 L1014.90,1358.29 L1018.90,1358.16 L1022.90,1358.03 L1026.90,1357.90 L1030.90,1357.76 L1034.90,1357.63 L1038.90,1357.49 L1042.90,1357.35 L1046.90,1357.21 L1050.90,1357.06 L1054.90,1356.91 L1058.90,1356.76 L1062.90,1356.61 L1066.90,1356.45 L1070.90,1356.29 L1074.90,1356.13 L1078.90,1355.97 L1082.90,1355.80 L1086.90,1355.63 L1090.90,1355.45 L1094.90,1355.28 L1098.90,1355.10 L1102.90,1354.92 L1106.90,1354.73 L1110.90,1354.54 L1114.90,1354.35 L1118.90,1354.15 L1122.90,1353.96 L1126.90,1353.75 L1130.90,1353.55 L1134.90,1353.34 L1138.90,1353.13 L1142.90,1352.91 L1146.90,1352.69 L1150.90,1352.46 L1154.90,1352.24 L1158.90,1352.00 L1162.90,1351.77 L1166.90,1351.53 L1170.90,1351.28 L1174.90,1351.03 L1178.90,1350.78 L1182.90,1350.52 L1186.90,1350.26 L1190.12,1350.05 L1192.68,1349.88 L1195.24,1349.70 L1197.81,1349.53 L1200.38,1349.35 L1202.95,1349.18 L1205.52,1349.00 L1208.10,1348.82 L1210.68,1348.63 L1213.26,1348.45 L1215.84,1348.26 L1218.42,1348.07 L1221.01,1347.87 L1223.60,1347.67 L1226.18,1347.47 L1228.77,1347.26 L1231.36,1347.05 L1233.96,1346.84 L1236.55,1346.62 L1239.14,1346.39 L1241.73,1346.16 L1244.33,1345.92 L1246.92,1345.68 L1249.52,1345.43 L1252.11,1345.18 L1254.70,1344.91 L1257.30,1344.64 L1259.89,1344.37 L1262.48,1344.09 L1265.07,1343.80 L1267.66,1343.50 L1270.25,1343.19 L1272.84,1342.87 L1275.43,1342.55 L1278.01,1342.22 L1280.59,1341.88 L1283.18,1341.53 L1285.75,1341.17 L1288.33,1340.80 L1290.91,1340.42 L1293.48,1340.02 L1296.05,1339.62 L1298.62,1339.21 L1301.18,1338.79 L1303.74,1338.35 L1306.30,1337.91 L1308.86,1337.45 L1311.41,1336.98 L1313.96,1336.50 L1316.50,1336.00 L1319.04,1335.49 L1321.58,1334.97 L1324.11,1334.44 L1326.64,1333.89 L1329.17,1333.33 L1331.68,1332.76 L1334.20,1332.17 L1336.71,1331.56 L1339.21,1330.94 L1341.71,1330.31 L1344.21,1329.66 L1346.70,1329.00 L1349.18,1328.31 L1351.66,1327.62 L1354.13,1326.91 L1356.60,1326.18 L1359.05,1325.44 L1361.51,1324.68 L1363.95,1323.90 L1366.39,1323.11 L1368.82,1322.30 L1371.25,1321.47 L1373.66,1320.63 L1376.07,1319.78 L1378.47,1318.90 L1380.86,1318.01 L1383.25,1317.10 L1385.62,1316.18 L1387.99,1315.24 L1390.34,1314.28 L1392.69,1313.30 L1395.03,1312.31 L1397.36,1311.30 L1399.68,1310.27 L1401.99,1309.23 L1404.29,1308.17 L1406.57,1307.09 L1408.85,1305.99 L1411.12,1304.87 L1413.37,1303.74 L1415.62,1302.59 L1417.85,1301.42 L1420.07,1300.24 L1422.28,1299.03 L1424.48,1297.81 L1426.67,1296.57 L1428.84,1295.31 L1431.00,1294.03 L1433.15,1292.73 L1435.28,1291.42 L1437.40,1290.08 L1439.51,1288.73 L1441.60,1287.36 L1443.68,1285.97 L1445.75,1284.56 L1447.80,1283.13 L1449.84,1281.69 L1451.86,1280.22 L1453.87,1278.73 L1455.86,1277.23 L1457.83,1275.70 L1459.80,1274.16 L1461.74,1272.59 L1463.67,1271.01 L1465.59,1269.41 L1467.49,1267.79 L1469.38,1266.15 L1471.25,1264.50 L1473.10,1262.83 L1474.95,1261.14 L1476.77,1259.43 L1478.59,1257.71 L1480.39,1255.97 L1482.17,1254.21 L1483.95,1252.44 L1485.71,1250.66 L1487.45,1248.86 L1489.18,1247.05 L1490.90,1245.22 L1492.61,1243.38 L1494.30,1241.52 L1495.98,1239.65 L1497.65,1237.77 L1499.30,1235.88 L1500.94,1233.97 L1502.57,1232.06 L1504.19,1230.13 L1505.80,1228.19 L1507.39,1226.24 L1508.97,1224.28 L1510.54,1222.31 L1512.10,1220.32 L1513.65,1218.33 L1515.19,1216.33 L1516.71,1214.33 L1518.23,1212.31 L1519.73,1210.28 L1521.22,1208.25 L1522.71,1206.21 L1524.18,1204.16 L1525.64,1202.11 L1527.09,1200.04 L1528.54,1197.98 L1529.97,1195.90 L1531.39,1193.82 L1532.80,1191.74 L1534.21,1189.65 L1535.60,1187.55 L1536.99,1185.45 L1538.36,1183.35 L1539.73,1181.24 L1541.09,1179.12 L1542.43,1177.00 L1543.77,1174.87 L1545.10,1172.74 L1546.42,1170.61 L1547.74,1168.47 L1549.04,1166.32 L1550.33,1164.17 L1551.62,1162.02 L1552.90,1159.86 L1554.17,1157.69 L1555.43,1155.53 L1556.68,1153.35 L1557.92,1151.17 L1559.16,1148.99 L1560.39,1146.81 L1561.61,1144.61 L1562.82,1142.42 L1564.02,1140.22 L1565.22,1138.01 L1566.40,1135.81 L1567.58,1133.59 L1568.75,1131.38 L1569.92,1129.15 L1571.07,1126.93 L1572.22,1124.70 L1573.36,1122.47 L1574.50,1120.23 L1575.63,1117.99 L1576.74,1115.74 L1577.86,1113.49 L1578.96,1111.24 L1580.06,1108.98 L1581.15,1106.72 L1582.23,1104.45 L1583.31,1102.19 L1584.38,1099.91 L1585.44,1097.64 L1586.50,1095.36 L1587.55,1093.07 L1588.59,1090.79 L1589.63,1088.50 L1590.66,1086.20 L1591.68,1083.91 L1592.70,1081.61 L1593.71,1079.30 L1594.72,1076.99 L1595.72,1074.68 L1596.71,1072.37 L1597.70,1070.05 L1598.68,1067.73 L1599.65,1065.41 L1600.62,1063.08 L1601.58,1060.75 L1602.54,1058.42 L1603.49,1056.08 L1604.44,1053.75 L1605.38,1051.40 L1606.32,1049.06 L1607.25,1046.71 L1608.17,1044.36 L1609.09,1042.01 L1610.00,1039.66 L1610.91,1037.30 L1611.82,1034.94 L1612.72,1032.57 L1613.61,1030.21 L1614.50,1027.84 L1615.39,1025.47 L1616.27,1023.09 L1617.14,1020.72 L1618.01,1018.34 L1618.88,1015.96 L1619.74,1013.58 L1620.60,1011.19 L1621.45,1008.80 L1622.30,1006.41 L1623.14,1004.02 L1623.98,1001.63 L1624.82,999.23 L1625.65,996.83 L1626.48,994.43 L1627.30,992.03 L1628.12,989.63 L1628.94,987.22 L1629.75,984.81 L1630.56,982.40 L1631.37,979.99 L1632.17,977.58 L1632.97,975.16 L1633.76,972.75 L1634.56,970.33 L1635.34,967.91 L1636.13,965.49 L1636.91,963.06 L1637.69,960.64 L1638.47,958.21 L1639.24,955.79 L1640.01,953.36 L1640.78,950.93 L1641.54,948.50 L1642.31,946.06 L1643.07,943.63 L1643.82,941.19 L1644.58,938.76 L1645.33,936.32 L1646.08,933.88 L1646.83,931.44 L1647.57,929.00 L1648.32,926.56 L1649.06,924.12 L1649.80,921.67 L1650.53,919.23 L1651.27,916.78 L1652.00,914.34 L1652.73,911.89 L1653.46,909.44 L1654.19,907.00 L1654.92,904.55 L1655.64,902.10 L1656.37,899.65 L1657.09,897.20 L1657.81,894.75 L1658.53,892.30 L1659.25,889.85 L1659.97,887.39 L1660.68,884.94 L1661.40,882.49 L1662.11,880.04 L1662.82,877.58 L1663.54,875.13 L1664.25,872.68 L1664.96,870.22 L1665.67,867.77 L1666.38,865.31 L1667.09,862.86 L1667.80,860.41 L1668.51,857.95 L1669.22,855.50 L1669.92,853.05 L1670.63,850.59 L1671.34,848.14 L1672.05,845.69 L1672.75,843.23 L1673.46,840.78 L1674.17,838.33 L1674.87,835.88 L1675.58,833.42 L1676.28,830.97 L1676.99,828.52 L1677.69,826.07 L1678.40,823.61 L1679.10,821.16 L1679.81,818.71 L1680.51,816.26 L1681.21,813.81 L1681.92,811.36 L1682.62,808.90 L1683.32,806.45 L1684.02,804.00 L1684.72,801.55 L1685.42,799.10 L1686.13,796.65 L1686.83,794.20 L1687.53,791.75 L1688.23,789.29 L1688.93,786.84 L1689.63,784.39 L1690.33,781.94 L1691.02,779.49 L1691.72,777.04 L1692.42,774.59 L1693.12,772.14 L1693.82,769.69 L1694.51,767.24 L1695.21,764.79 L1695.91,762.34 L1696.60,759.89 L1697.30,757.44 L1697.99,754.99 L1698.69,752.54 L1699.38,750.09 L1700.08,747.64 L1700.77,745.19 L1701.47,742.74 L1702.16,740.29 L1702.85,737.84 L1703.55,735.39 L1704.24,732.94 L1704.93,730.49 L1705.62,728.04 L1706.31,725.59 L1707.00,723.14 L1707.70,720.69 L1708.39,718.24 L1709.08,715.79 L1709.76,713.34 L1710.45,710.89 L1711.14,708.44 L1711.83,705.99 L1712.52,703.54 L1713.21,701.09 L1713.90,698.64 L1714.58,696.20 L1715.27,693.75 L1715.96,691.30 L1716.64,688.85 L1717.33,686.40 L1718.01,683.95 L1718.70,681.50 L1719.38,679.05 L1720.07,676.60 L1720.75,674.15 L1721.43,671.70 L1722.12,669.25 L1722.80,666.80 L1723.48,664.35 L1724.16,661.90 L1724.84,659.45 L1725.53,657.00 L1726.21,654.55 L1726.89,652.10 L1727.57,649.66 L1728.25,647.21 L1728.93,644.76 L1729.60,642.31 L1730.28,639.86 L1730.96,637.41 L1731.64,634.96 L1732.32,632.51 L1732.99,630.06 L1733.67,627.61 L1734.35,625.16 L1735.02,622.71 L1735.70,620.26 L1736.37,617.81 L1737.05,615.36 L1737.72,612.91 L1738.39,610.46 L1739.07,608.01 L1739.74,605.56 L1740.41,603.11 L1741.08,600.65 L1741.76,598.20 L1742.43,595.75 L1743.10,593.30 L1743.77,590.85 L1744.44,588.40 L1745.11,585.95 L1745.78,583.50 L1746.45,581.05 L1747.11,578.60 L1747.78,576.15 L1748.45,573.69 L1749.12,571.24 L1749.78,568.79 L1750.45,566.34 L1751.12,563.89 L1751.78,561.44 L1752.45,558.99 L1753.11,556.53 L1753.78,554.08 L1754.44,551.63 L1755.10,549.18 L1755.77,546.73 L1756.43,544.27 L1757.09,541.82 L1757.75,539.37 L1758.41,536.92 L1759.07,534.46 L1759.73,532.01 L1760.39,529.56 L1761.05,527.10 L1761.71,524.65 L1762.37,522.20 L1763.03,519.74 L1763.69,517.29 L1764.34,514.84 L1765.00,512.38 L1765.66,509.93 L1766.31,507.48 L1766.97,505.02 L1767.62,502.57 L1768.28,500.11 L1768.93,497.66 L1769.58,495.20 L1770.24,492.75 L1770.89,490.29 L1771.54,487.84 L1772.19,485.38 L1772.85,482.93 L1773.50,480.47 L1774.15,478.02 L1774.80,475.56 L1775.45,473.11 L1776.10,470.65 L1776.74,468.19 L1777.39,465.74 L1778.04,463.28 L1778.69,460.82 L1779.33,458.37 L1779.98,455.91 L1780.63,453.45 L1781.27,451.00 L1781.92,448.54 L1782.56,446.08 L1783.20,443.62 L1783.85,441.17 L1784.49,438.71 L1785.13,436.25 L1785.77,433.79 L1786.42,431.33 L1787.06,428.87 L1787.70,426.41 L1788.34,423.95 L1788.98,421.49 L1789.62,419.04 L1790.25,416.58 L1790.89,414.12 L1791.53,411.66 L1792.17,409.20 L1792.80,406.73 L1793.44,404.27 L1794.08,401.81 L1794.71,399.35 L1795.35,396.89 L1795.98,394.43 L1796.61,391.97 L1797.25,389.51 L1797.88,387.04 L1798.51,384.58 L1799.14,382.12 L1799.77,379.66 L1800.40,377.19 L1801.03,374.73 L1801.66,372.27 L1802.29,369.80 L1802.92,367.34 L1803.55,364.87 L1804.18,362.41 L1804.80,359.95 L1805.43,357.48 L1806.06,355.02 L1806.68,352.55 L1807.31,350.09 L1807.93,347.62 L1808.55,345.15 L1809.18,342.69 L1809.80,340.22 L1810.42,337.75 L1811.04,335.29 L1811.67,332.82 L1812.29,330.35 L1812.91,327.89 L1813.53,325.42 L1814.15,322.95 L1814.76,320.48 L1815.38,318.01 L1816.00,315.54 L1816.62,313.07 L1817.23,310.60 L1817.85,308.14 L1818.46,305.67 L1819.08,303.20 L1819.69,300.72 L1820.31,298.25 L1820.92,295.78 L1821.53,293.31 L1822.15,290.84 L1822.76,288.37 L1823.37,285.90 L1823.98,283.42 L1824.59,280.95 L1825.20,278.48 L1825.81,276.00 L1826.42,273.53 L1827.02,271.06 L1827.63,268.58 L1828.24,266.11 L1828.84,263.63 L1829.45,261.16 L1830.05,258.68 L1830.66,256.21 L1831.26,253.73 L1831.86,251.26 L1832.47,248.78 L1833.07,246.30 L1833.67,243.83 L1834.27,241.35 L1834.87,238.87 L1835.47,236.39 L1836.07,233.91 L1836.67,231.44 L1837.27,228.96 L1837.87,226.48 L1838.46,224.00 L1839.06,221.52 L1839.66,219.04 L1840.25,216.56 L1840.85,214.08 L1841.44,211.60 L1842.03,209.11 L1842.63,206.63 L1843.22,204.15 L1843.81,201.67 L1844.40,199.18 L1844.99,196.70 L1845.58,194.22 L1846.17,191.73 L1846.76,189.25 L1847.35,186.77 L1847.94,184.28 L1848.52,181.79 L1849.11,179.31 L1849.70,176.82 L1850.28,174.34 L1850.87,171.85 L1851.45,169.36 L1852.03,166.88 L1852.62,164.39 L1853.20,161.90 L1853.78,159.41 L1854.36,156.92 L1854.94,154.43 L1855.52,151.94 L1856.10,149.45 L1856.68,146.96 L1857.26,144.47 L1857.84,141.98 L1858.41,139.49 L1858.99,137.00 L1859.56,134.51 L1860.14,132.01 L1860.71,129.52 L1861.29,127.03 L1861.86,124.53 L1862.43,122.04 L1863.00,119.54 L1863.58,117.05 L1864.15,114.55 L1864.72,112.06 L1865.29,109.56 L1865.85,107.07 L1866.42,104.57 L1866.99,102.07 L1867.56,99.57 L1868.12,97.08 L1868.69,94.58 L1869.25,92.08 L1869.82,89.58 L1870.38,87.08 L1870.94,84.58 L1871.51,82.08 L1872.07,79.58 L1872.63,77.08 L1873.19,74.57 L1873.75,72.07 L1874.31,69.57 L1874.87,67.07 L1875.43,64.56 L1875.98,62.06 L1876.54,59.55 L1877.10,57.05 L1877.65,54.54 L1878.21,52.04 L1878.70,49.80 L1878.70,49.80" fill="none" stroke="#0000ff" stroke-width="13" stroke-dasharray="7.3,8.6" stroke-linejoin="round" clip-path="url(#mainclip)"/>
<path d="M370.90,1362.85 L374.90,1362.85 L378.90,1362.84 L382.90,1362.84 L386.90,1362.84 L390.90,1362.83 L394.90,1362.83 L398.90,1362.82 L402.90,1362.82 L406.90,1362.81 L410.90,1362.81 L414.90,1362.80 L418.90,1362.80 L422.90,1362.79 L426.90,1362.78 L430.90,1362.78 L434.90,1362.77 L438.90,1362.77 L442.90,1362.76 L446.90,1362.76 L450.90,1362.75 L454.90,1362.74 L458.90,1362.74 L462.90,1362.73 L466.90,1362.73 L470.90,1362.72 L474.90,1362.71 L478.90,1362.71 L482.90,1362.70 L486.90,1362.69 L490.90,1362.69 L494.90,1362.68 L498.90,1362.67 L502.90,1362.67 L506.90,1362.66 L510.90,1362.65 L514.90,1362.65 L518.90,1362.64 L522.90,1362.63 L526.90,1362.62 L530.90,1362.62 L534.90,1362.61 L538.90,1362.60 L542.90,1362.59 L546.90,1362.59 L550.90,1362.58 L554.90,1362.57 L558.90,1362.56 L562.90,1362.55 L566.90,1362.54 L570.90,1362.54 L574.90,1362.53 L578.90,1362.52 L582.90,1362.51 L586.90,1362.50 L590.90,1362.49 L594.90,1362.48 L598.90,1362.47 L602.90,1362.46 L606.90,1362.45 L610.90,1362.44 L614.90,1362.43 L618.90,1362.42 L622.90,1362.41 L626.90,1362.40 L630.90,1362.39 L634.90,1362.38 L638.90,1362.37 L642.90,1362.36 L646.90,1362.35 L650.90,1362.34 L654.90,1362.33 L658.90,1362.32 L662.90,1362.30 L666.90,1362.29 L670.90,1362.28 L674.90,1362.27 L678.90,1362.26 L682.90,1362.24 L686.90,1362.23 L690.90,1362.22 L694.90,1362.21 L698.90,1362.19 L702.90,1362.18 L706.90,1362.17 L710.90,1362.15 L714.90,1362.14 L718.90,1362.12 L722.90,1362.11 L726.90,1362.10 L730.90,1362.08 L734.90,1362.07 L738.90,1362.05 L742.90,1362.04 L746.90,1362.02 L750.90,1362.01 L754.90,1361.99 L758.90,1361.97 L762.90,1361.96 L766.90,1361.94 L770.90,1361.93 L774.90,1361.91 L778.90,1361.89 L782.90,1361.87 L786.90,1361.86 L790.90,1361.84 L794.90,1361.82 L798.90,1361.80 L802.90,1361.79 L806.90,1361.77 L810.90,1361.75 L814.90,1361.73 L818.90,1361.71 L822.90,1361.69 L826.90,1361.67 L830.90,1361.65 L834.90,1361.63 L838.90,1361.61 L842.90,1361.59 L846.90,1361.57 L850.90,1361.55 L854.90,1361.52 L858.90,1361.50 L862.90,1361.48 L866.90,1361.46 L870.90,1361.43 L874.90,1361.41 L878.90,1361.39 L882.90,1361.36 L886.90,1361.34 L890.90,1361.32 L894.90,1361.29 L898.90,1361.27 L902.90,1361.24 L906.90,1361.21 L910.90,1361.19 L914.90,1361.16 L918.90,1361.14 L922.90,1361.11 L926.90,1361.08 L930.90,1361.05 L934.90,1361.02 L938.90,1361.00 L942.90,1360.97 L946.90,1360.94 L950.90,1360.91 L954.90,1360.88 L958.90,1360.85 L962.90,1360.82 L966.90,1360.79 L970.90,1360.75 L974.90,1360.72 L978.90,1360.69 L982.90,1360.66 L986.90,1360.62 L990.90,1360.59 L994.90,1360.55 L998.90,1360.52 L1002.90,1360.48 L1006.90,1360.45 L1010.90,1360.41 L1014.90,1360.38 L1018.90,1360.34 L1022.90,1360.30 L1026.90,1360.26 L1030.90,1360.23 L1034.90,1360.19 L1038.90,1360.15 L1042.90,1360.11 L1046.90,1360.07 L1050.90,1360.02 L1054.90,1359.98 L1058.90,1359.94 L1062.90,1359.90 L1066.90,1359.86 L1070.90,1359.81 L1074.90,1359.77 L1078.90,1359.72 L1082.90,1359.68 L1086.90,1359.63 L1090.90,1359.58 L1094.90,1359.54 L1098.90,1359.49 L1102.90,1359.44 L1106.90,1359.39 L1110.90,1359.34 L1114.90,1359.29 L1118.90,1359.24 L1122.90,1359.19 L1126.90,1359.13 L1130.90,1359.08 L1134.90,1359.03 L1138.90,1358.97 L1142.90,1358.91 L1146.90,1358.86 L1150.90,1358.80 L1154.90,1358.74 L1158.90,1358.69 L1162.90,1358.63 L1166.90,1358.57 L1170.90,1358.51 L1174.90,1358.44 L1178.90,1358.38 L1182.90,1358.32 L1186.90,1358.25 L1189.94,1358.20 L1192.03,1358.17 L1194.13,1358.14 L1196.22,1358.11 L1198.31,1358.07 L1200.40,1358.04 L1202.49,1358.01 L1204.58,1357.98 L1206.67,1357.95 L1208.76,1357.92 L1210.86,1357.89 L1212.95,1357.86 L1215.04,1357.83 L1217.13,1357.80 L1219.22,1357.77 L1221.32,1357.74 L1223.41,1357.71 L1225.50,1357.68 L1227.59,1357.65 L1229.69,1357.63 L1231.78,1357.60 L1233.87,1357.57 L1235.97,1357.53 L1238.06,1357.50 L1240.15,1357.47 L1242.25,1357.44 L1244.34,1357.41 L1246.44,1357.38 L1248.53,1357.34 L1250.63,1357.31 L1252.72,1357.28 L1254.81,1357.24 L1256.91,1357.21 L1259.00,1357.17 L1261.10,1357.13 L1263.20,1357.09 L1265.29,1357.05 L1267.39,1357.01 L1269.48,1356.97 L1271.58,1356.93 L1273.68,1356.89 L1275.77,1356.84 L1277.87,1356.80 L1279.96,1356.75 L1282.06,1356.70 L1284.16,1356.65 L1286.26,1356.60 L1288.35,1356.55 L1290.45,1356.50 L1292.55,1356.44 L1294.65,1356.38 L1296.75,1356.33 L1298.84,1356.27 L1300.94,1356.20 L1303.04,1356.14 L1305.14,1356.07 L1307.24,1356.01 L1309.34,1355.94 L1311.44,1355.87 L1313.54,1355.80 L1315.64,1355.72 L1317.74,1355.64 L1319.84,1355.56 L1321.94,1355.48 L1324.04,1355.40 L1326.14,1355.31 L1328.24,1355.23 L1330.34,1355.14 L1332.44,1355.04 L1334.54,1354.95 L1336.65,1354.85 L1338.75,1354.75 L1340.85,1354.65 L1342.95,1354.54 L1345.06,1354.44 L1347.16,1354.33 L1349.26,1354.21 L1351.36,1354.10 L1353.47,1353.98 L1355.57,1353.86 L1357.68,1353.73 L1359.78,1353.60 L1361.88,1353.47 L1363.99,1353.34 L1366.09,1353.20 L1368.20,1353.06 L1370.30,1352.92 L1372.41,1352.77 L1374.51,1352.62 L1376.62,1352.47 L1378.73,1352.32 L1380.83,1352.16 L1382.94,1351.99 L1385.04,1351.83 L1387.15,1351.66 L1389.26,1351.48 L1391.37,1351.31 L1393.47,1351.12 L1395.58,1350.94 L1397.69,1350.75 L1399.80,1350.56 L1401.90,1350.36 L1404.01,1350.16 L1406.12,1349.96 L1408.23,1349.75 L1410.33,1349.53 L1412.44,1349.31 L1414.55,1349.09 L1416.65,1348.86 L1418.76,1348.62 L1420.86,1348.38 L1422.96,1348.13 L1425.07,1347.88 L1427.17,1347.62 L1429.27,1347.36 L1431.37,1347.09 L1433.46,1346.81 L1435.56,1346.53 L1437.65,1346.24 L1439.75,1345.94 L1441.84,1345.64 L1443.93,1345.33 L1446.02,1345.01 L1448.10,1344.69 L1450.19,1344.36 L1452.27,1344.02 L1454.35,1343.67 L1456.43,1343.31 L1458.50,1342.95 L1460.57,1342.58 L1462.64,1342.20 L1464.71,1341.81 L1466.78,1341.41 L1468.84,1341.00 L1470.90,1340.59 L1472.96,1340.16 L1475.01,1339.73 L1477.06,1339.29 L1479.11,1338.83 L1481.15,1338.37 L1483.19,1337.90 L1485.23,1337.42 L1487.26,1336.93 L1489.29,1336.42 L1491.32,1335.91 L1493.34,1335.39 L1495.36,1334.85 L1497.38,1334.31 L1499.39,1333.75 L1501.39,1333.19 L1503.40,1332.61 L1505.40,1332.02 L1507.39,1331.42 L1509.38,1330.81 L1511.36,1330.18 L1513.35,1329.55 L1515.32,1328.90 L1517.30,1328.24 L1519.26,1327.58 L1521.23,1326.90 L1523.19,1326.21 L1525.15,1325.51 L1527.10,1324.80 L1529.05,1324.08 L1530.99,1323.35 L1532.93,1322.61 L1534.86,1321.85 L1536.80,1321.09 L1538.72,1320.32 L1540.65,1319.54 L1542.56,1318.75 L1544.48,1317.95 L1546.39,1317.14 L1548.30,1316.32 L1550.20,1315.49 L1552.10,1314.65 L1554.00,1313.80 L1555.89,1312.94 L1557.77,1312.07 L1559.66,1311.20 L1561.54,1310.31 L1563.41,1309.42 L1565.28,1308.52 L1567.15,1307.60 L1569.02,1306.68 L1570.88,1305.76 L1572.73,1304.82 L1574.58,1303.87 L1576.43,1302.92 L1578.28,1301.96 L1580.12,1300.99 L1581.96,1300.01 L1583.79,1299.03 L1585.62,1298.03 L1587.45,1297.03 L1589.27,1296.02 L1591.09,1295.01 L1592.90,1293.98 L1594.71,1292.95 L1596.52,1291.91 L1598.32,1290.87 L1600.12,1289.81 L1601.92,1288.75 L1603.71,1287.69 L1605.50,1286.61 L1607.29,1285.53 L1609.07,1284.44 L1610.85,1283.35 L1612.63,1282.25 L1614.40,1281.14 L1616.17,1280.03 L1617.93,1278.91 L1619.69,1277.79 L1621.45,1276.65 L1623.21,1275.52 L1624.96,1274.37 L1626.71,1273.22 L1628.45,1272.07 L1630.19,1270.91 L1631.93,1269.74 L1633.66,1268.57 L1635.39,1267.39 L1637.12,1266.21 L1638.84,1265.02 L1640.57,1263.83 L1642.28,1262.63 L1644.00,1261.43 L1645.71,1260.22 L1647.42,1259.01 L1649.12,1257.79 L1650.82,1256.57 L1652.52,1255.35 L1654.22,1254.12 L1655.91,1252.88 L1657.60,1251.64 L1659.28,1250.40 L1660.96,1249.15 L1662.64,1247.90 L1664.32,1246.65 L1665.99,1245.39 L1667.66,1244.12 L1669.33,1242.86 L1670.99,1241.59 L1672.65,1240.32 L1674.31,1239.04 L1675.96,1237.76 L1677.62,1236.48 L1679.26,1235.19 L1680.91,1233.90 L1682.55,1232.61 L1684.19,1231.31 L1685.83,1230.02 L1687.46,1228.71 L1689.09,1227.41 L1690.72,1226.10 L1692.35,1224.79 L1693.97,1223.48 L1695.59,1222.16 L1697.21,1220.84 L1698.82,1219.52 L1700.43,1218.19 L1702.04,1216.86 L1703.64,1215.53 L1705.25,1214.20 L1706.85,1212.86 L1708.44,1211.52 L1710.04,1210.18 L1711.63,1208.83 L1713.22,1207.48 L1714.81,1206.13 L1716.39,1204.78 L1717.97,1203.42 L1719.55,1202.06 L1721.13,1200.70 L1722.70,1199.33 L1724.27,1197.97 L1725.84,1196.60 L1727.40,1195.22 L1728.97,1193.85 L1730.53,1192.47 L1732.08,1191.09 L1733.64,1189.70 L1735.19,1188.32 L1736.74,1186.93 L1738.29,1185.54 L1739.83,1184.14 L1741.38,1182.75 L1742.92,1181.35 L1744.46,1179.94 L1745.99,1178.54 L1747.53,1177.13 L1749.06,1175.73 L1750.58,1174.31 L1752.11,1172.90 L1753.64,1171.48 L1755.16,1170.07 L1756.68,1168.64 L1758.19,1167.22 L1759.71,1165.80 L1761.22,1164.37 L1762.73,1162.94 L1764.24,1161.51 L1765.74,1160.07 L1767.25,1158.63 L1768.75,1157.19 L1770.25,1155.75 L1771.75,1154.31 L1773.24,1152.86 L1774.73,1151.41 L1776.22,1149.96 L1777.71,1148.51 L1779.20,1147.06 L1780.68,1145.60 L1782.16,1144.14 L1783.65,1142.68 L1785.12,1141.22 L1786.60,1139.75 L1788.07,1138.29 L1789.55,1136.82 L1791.02,1135.35 L1792.48,1133.87 L1793.95,1132.40 L1795.41,1130.92 L1796.88,1129.44 L1798.34,1127.96 L1799.80,1126.48 L1801.25,1125.00 L1802.71,1123.51 L1804.16,1122.02 L1805.61,1120.53 L1807.06,1119.04 L1808.51,1117.55 L1809.95,1116.05 L1811.40,1114.55 L1812.84,1113.05 L1814.28,1111.55 L1815.72,1110.05 L1817.16,1108.55 L1818.59,1107.04 L1820.03,1105.53 L1821.46,1104.02 L1822.89,1102.51 L1824.32,1101.00 L1825.74,1099.49 L1827.17,1097.97 L1828.59,1096.45 L1830.01,1094.93 L1831.43,1093.41 L1832.85,1091.89 L1834.27,1090.37 L1835.69,1088.84 L1837.10,1087.32 L1838.51,1085.79 L1839.92,1084.26 L1841.33,1082.73 L1842.74,1081.20 L1844.15,1079.66 L1845.55,1078.13 L1846.96,1076.59 L1848.36,1075.05 L1849.76,1073.51 L1851.16,1071.97 L1852.56,1070.43 L1853.96,1068.89 L1855.35,1067.34 L1856.75,1065.80 L1858.14,1064.25 L1859.53,1062.70 L1860.92,1061.15 L1862.31,1059.60 L1863.70,1058.05 L1865.09,1056.50 L1866.47,1054.94 L1867.85,1053.39 L1869.24,1051.83 L1870.62,1050.28 L1872.00,1048.72 L1873.38,1047.16 L1874.76,1045.60 L1876.13,1044.04 L1877.51,1042.47 L1878.89,1040.91 L1880.26,1039.34 L1881.63,1037.78 L1883.00,1036.21 L1884.37,1034.64 L1885.74,1033.08 L1887.11,1031.51 L1888.48,1029.94 L1889.85,1028.37 L1891.21,1026.79 L1892.58,1025.22 L1893.94,1023.65 L1895.30,1022.07 L1896.66,1020.50 L1898.02,1018.92 L1899.38,1017.34 L1900.74,1015.77 L1902.10,1014.19 L1903.46,1012.61 L1904.81,1011.03 L1906.17,1009.45 L1907.52,1007.87 L1908.88,1006.28 L1910.23,1004.70 L1911.58,1003.12 L1912.93,1001.53 L1914.28,999.95 L1915.63,998.36 L1916.98,996.77 L1918.32,995.18 L1919.67,993.59 L1921.02,992.00 L1922.36,990.41 L1923.70,988.82 L1925.04,987.23 L1926.38,985.64 L1927.72,984.04 L1929.06,982.45 L1930.40,980.85 L1931.74,979.25 L1933.07,977.66 L1934.41,976.06 L1935.74,974.46 L1937.08,972.86 L1938.41,971.26 L1939.74,969.65 L1941.07,968.05 L1942.40,966.45 L1943.72,964.84 L1945.05,963.24 L1946.38,961.63 L1947.70,960.02 L1949.03,958.41 L1950.35,956.80 L1951.67,955.19 L1952.99,953.58 L1954.31,951.97 L1955.63,950.35 L1956.94,948.74 L1958.26,947.12 L1959.57,945.51 L1960.89,943.89 L1962.20,942.27 L1963.51,940.65 L1964.82,939.03 L1966.13,937.41 L1967.44,935.78 L1968.75,934.16 L1970.05,932.54 L1971.36,930.91 L1972.66,929.28 L1973.97,927.65 L1975.27,926.03 L1976.57,924.40 L1977.87,922.76 L1979.17,921.13 L1980.46,919.50 L1981.76,917.87 L1983.05,916.23 L1984.35,914.59 L1985.64,912.96 L1986.93,911.32 L1988.22,909.68 L1989.51,908.04 L1990.80,906.39 L1992.08,904.75 L1993.37,903.11 L1994.65,901.46 L1995.93,899.82 L1997.22,898.17 L1998.50,896.52 L1999.78,894.87 L2001.05,893.22 L2002.33,891.57 L2003.61,889.91 L2004.88,888.26 L2006.15,886.60 L2007.43,884.95 L2008.70,883.29 L2009.97,881.63 L2011.23,879.97 L2012.50,878.31 L2013.77,876.65 L2015.03,874.98 L2016.29,873.32 L2017.56,871.65 L2018.82,869.98 L2020.07,868.32 L2021.33,866.65 L2022.59,864.97 L2023.85,863.30 L2025.10,861.63 L2026.35,859.95 L2027.60,858.28 L2028.85,856.60 L2030.10,854.92 L2031.35,853.24 L2032.60,851.56 L2033.84,849.88 L2035.09,848.20 L2036.33,846.51 L2037.57,844.82 L2038.81,843.14 L2040.05,841.45 L2041.28,839.76 L2042.52,838.07 L2043.75,836.37 L2044.99,834.68 L2046.22,832.98 L2047.45,831.29 L2048.68,829.59 L2049.90,827.89 L2051.13,826.19 L2052.35,824.49 L2053.58,822.79 L2054.80,821.08 L2056.02,819.37 L2057.24,817.67 L2058.46,815.96 L2059.67,814.25 L2060.89,812.54 L2062.10,810.82 L2063.31,809.11 L2064.52,807.39 L2065.73,805.68 L2066.94,803.96 L2068.15,802.24 L2069.35,800.52 L2070.56,798.80 L2071.76,797.07 L2072.96,795.35 L2074.16,793.62 L2075.36,791.89 L2076.55,790.16 L2077.75,788.43 L2078.94,786.70 L2080.13,784.96 L2081.32,783.23 L2082.51,781.49 L2083.70,779.75 L2084.88,778.01 L2086.07,776.27 L2087.25,774.53 L2088.43,772.78 L2089.61,771.04 L2090.79,769.29 L2091.97,767.54 L2093.14,765.79 L2094.32,764.04 L2095.49,762.29 L2096.67,760.54 L2097.84,758.78 L2099.01,757.03 L2100.18,755.28 L2101.35,753.52 L2102.52,751.77 L2103.69,750.01 L2104.87,748.26 L2106.04,746.50 L2107.21,744.75 L2108.38,743.00 L2109.56,741.24 L2110.73,739.49 L2111.91,737.74 L2113.09,735.99 L2114.26,734.24 L2115.45,732.50 L2116.63,730.75 L2117.81,729.01 L2119.00,727.27 L2120.19,725.53 L2121.38,723.79 L2122.57,722.05 L2123.76,720.32 L2124.96,718.59 L2126.16,716.86 L2127.37,715.14 L2128.57,713.41 L2129.78,711.69 L2131.00,709.98 L2132.22,708.27 L2133.44,706.56 L2134.66,704.85 L2135.89,703.15 L2137.13,701.45 L2138.36,699.76 L2139.61,698.07 L2140.85,696.38 L2142.11,694.70 L2143.36,693.03 L2144.63,691.36 L2145.89,689.69 L2147.17,688.03 L2148.44,686.37 L2149.73,684.72 L2151.02,683.07 L2152.31,681.43 L2153.61,679.80 L2154.92,678.17 L2156.24,676.55 L2157.56,674.93 L2158.89,673.32 L2160.22,671.72 L2161.56,670.12 L2162.91,668.53 L2164.27,666.95 L2165.63,665.37 L2167.00,663.80 L2168.38,662.24 L2169.77,660.68 L2171.16,659.14 L2172.57,657.60 L2173.98,656.06 L2175.40,654.54 L2176.83,653.02 L2178.26,651.52 L2178.50,651.27" fill="none" stroke="#ff00ff" stroke-width="12.5" stroke-dasharray="3.6,4.6" stroke-linejoin="round" clip-path="url(#mainclip)"/>
<line x1="800.3" y1="910.8" x2="978" y2="910.8" stroke="#ff0000" stroke-width="14.8"/>
<line x1="800.3" y1="974" x2="978" y2="974" stroke="#00ff00" stroke-width="13" stroke-dasharray="15.1,4.45"/>
<line x1="800.3" y1="1038" x2="978" y2="1038" stroke="#0000ff" stroke-width="13" stroke-dasharray="7.6,8.7"/>
<line x1="801.3" y1="1101" x2="978" y2="1101" stroke="#ff00ff" stroke-width="12.4" stroke-dasharray="3.8,4.4"/>
<line x1="629.99" y1="1366.1" x2="629.99" y2="1345.6" stroke="#000" stroke-width="4.6"/>
<line x1="629.99" y1="49.8" x2="629.99" y2="69.4" stroke="#000" stroke-width="4.6"/>
<line x1="888.07" y1="1366.1" x2="888.07" y2="1345.6" stroke="#000" stroke-width="4.6"/>
<line x1="888.07" y1="49.8" x2="888.07" y2="69.4" stroke="#000" stroke-width="4.6"/>
<line x1="1146.16" y1="1366.1" x2="1146.16" y2="1345.6" stroke="#000" stroke-width="4.6"/>
<line x1="1146.16" y1="49.8" x2="1146.16" y2="69.4" stroke="#000" stroke-width="4.6"/>
<line x1="1404.24" y1="1366.1" x2="1404.24" y2="1345.6" stroke="#000" stroke-width="4.6"/>
<line x1="1404.24" y1="49.8" x2="1404.24" y2="69.4" stroke="#000" stroke-width="4.6"/>
<line x1="1662.33" y1="1366.1" x2="1662.33" y2="1345.6" stroke="#000" stroke-width="4.6"/>
<line x1="1662.33" y1="49.8" x2="1662.33" y2="69.4" stroke="#000" stroke-width="4.6"/>
<line x1="1920.41" y1="1366.1" x2="1920.41" y2="1345.6" stroke="#000" stroke-width="4.6"/>
<line x1="1920.41" y1="49.8" x2="1920.41" y2="69.4" stroke="#000" stroke-width="4.6"/>
<line x1="371.9" y1="1102.84" x2="392.50" y2="1102.84" stroke="#000" stroke-width="4.6"/>
<line x1="2178.5" y1="1102.84" x2="2157.70" y2="1102.84" stroke="#000" stroke-width="4.6"/>
<line x1="371.9" y1="839.58" x2="392.50" y2="839.58" stroke="#000" stroke-width="4.6"/>
<line x1="2178.5" y1="839.58" x2="2157.70" y2="839.58" stroke="#000" stroke-width="4.6"/>
<line x1="371.9" y1="576.32" x2="392.50" y2="576.32" stroke="#000" stroke-width="4.6"/>
<line x1="2178.5" y1="576.32" x2="2157.70" y2="576.32" stroke="#000" stroke-width="4.6"/>
<line x1="371.9" y1="313.06" x2="392.50" y2="313.06" stroke="#000" stroke-width="4.6"/>
<line x1="2178.5" y1="313.06" x2="2157.70" y2="313.06" stroke="#000" stroke-width="4.6"/>
<line x1="369.59999999999997" y1="49.8" x2="2181.0" y2="49.8" stroke="#000" stroke-width="6"/>
<line x1="369.59999999999997" y1="1366.1" x2="2181.0" y2="1366.1" stroke="#000" stroke-width="4.5"/>
<line x1="371.9" y1="46.8" x2="371.9" y2="1368.35" stroke="#000" stroke-width="4.6"/>
<line x1="2178.5" y1="46.8" x2="2178.5" y2="1368.35" stroke="#000" stroke-width="5"/>
<text x="380.2" y="1451.3" font-family="'Liberation Serif', 'DejaVu Serif', serif" font-size="65" text-anchor="middle">80</text>
<text x="638.3" y="1451.3" font-family="'Liberation Serif', 'DejaVu Serif', serif" font-size="65" text-anchor="middle">100</text>
<text x="896.9" y="1451.3" font-family="'Liberation Serif', 'DejaVu Serif', serif" font-size="65" text-anchor="middle">120</text>
<text x="1155.0" y="1451.3" font-family="'Liberation Serif', 'DejaVu Serif', serif" font-size="65" text-anchor="middle">140</text>
<text x="1413.4" y="1451.3" font-family="'Liberation Serif', 'DejaVu Serif', serif" font-size="65" text-anchor="middle">160</text>
<text x="1670.3" y="1451.3" font-family="'Liberation Serif', 'DejaVu Serif', serif" font-size="65" text-anchor="middle">180</text>
<text x="1929.1" y="1451.3" font-family="'Liberation Serif', 'DejaVu Serif', serif" font-size="65" text-anchor="middle">200</text>
<text x="2185.9" y="1451.3" font-family="'Liberation Serif', 'DejaVu Serif', serif" font-size="65" text-anchor="middle">220</text>
<text x="331.5" y="1387.50" font-family="'Liberation Serif', 'DejaVu Serif', serif" font-size="65" text-anchor="end">0</text>
<text x="331.5" y="1124.24" font-family="'Liberation Serif', 'DejaVu Serif', serif" font-size="65" text-anchor="end">0.02</text>
<text x="331.5" y="860.98" font-family="'Liberation Serif', 'DejaVu Serif', serif" font-size="65" text-anchor="end">0.04</text>
<text x="331.5" y="597.72" font-family="'Liberation Serif', 'DejaVu Serif', serif" font-size="65" text-anchor="end">0.06</text>
<text x="331.5" y="334.46" font-family="'Liberation Serif', 'DejaVu Serif', serif" font-size="65" text-anchor="end">0.08</text>
<text x="329.5" y="71.20" font-family="'Liberation Serif', 'DejaVu Serif', serif" font-size="65" text-anchor="end">0.1</text>
<text transform="translate(1275.3,1545.7) scale(1,1.02)" font-family="'Liberation Sans', 'DejaVu Sans', sans-serif" font-weight="bold" font-size="66" text-anchor="middle">T</text>
<g>
<text transform="translate(93.60,0) rotate(-90) scale(1.05,1.0)" x="-787.78" y="0" font-family="'Liberation Serif', 'DejaVu Serif', serif" font-size="70">η</text>
<text transform="translate(93.60,0) rotate(-90) scale(1.0,1.0)" x="-789.70" y="0" font-family="'Liberation Sans', 'DejaVu Sans', sans-serif" font-weight="bold" font-size="66">(</text>
<text transform="translate(93.60,0) rotate(-90) scale(1.0,1.06)" x="-767.48" y="0" font-family="'Liberation Sans', 'DejaVu Sans', sans-serif" font-weight="bold" font-size="66">G</text>
<text transform="translate(93.60,0) rotate(-90) scale(1.0,1.06)" x="-717.51" y="0" font-family="'Liberation Sans', 'DejaVu Sans', sans-serif" font-weight="bold" font-size="66">e</text>
<text transform="translate(93.60,0) rotate(-90) scale(1.0,1.06)" x="-682.41" y="0" font-family="'Liberation Sans', 'DejaVu Sans', sans-serif" font-weight="bold" font-size="66">V</text>
<text transform="translate(63.00,0) rotate(-90) scale(1.0,1.06)" x="-639.62" y="0" font-family="'Liberation Sans', 'DejaVu Sans', sans-serif" font-weight="bold" font-size="52">3</text>
<text transform="translate(93.60,0) rotate(-90) scale(1.0,1.0)" x="-610.88" y="0" font-family="'Liberation Sans', 'DejaVu Sans', sans-serif" font-weight="bold" font-size="66">)</text>
</g>
<text transform="translate(0,925.90) scale(1.067,1)" x="547.08" y="0" font-family="'Liberation Serif', 'DejaVu Serif', serif" font-size="70">η</text><text x="761.6" y="944.20" text-anchor="end" font-family="'Liberation Sans', 'DejaVu Sans', sans-serif" font-weight="bold" font-size="52">const</text>
<text transform="translate(0,989.20) scale(1.067,1)" x="592.35" y="0" font-family="'Liberation Serif', 'DejaVu Serif', serif" font-size="70">η</text><text x="761.6" y="1007.50" text-anchor="end" font-family="'Liberation Sans', 'DejaVu Sans', sans-serif" font-weight="bold" font-size="52">exp</text>
<text transform="translate(0,1052.50) scale(1.067,1)" x="598.34" y="0" font-family="'Liberation Serif', 'DejaVu Serif', serif" font-size="70">η</text><text x="761.6" y="1070.80" text-anchor="end" font-family="'Liberation Sans', 'DejaVu Sans', sans-serif" font-weight="bold" font-size="52">Lor</text>
<text transform="translate(0,1115.80) scale(1.067,1)" x="606.97" y="0" font-family="'Liberation Serif', 'DejaVu Serif', serif" font-size="70">η</text><text x="761.6" y="1134.10" text-anchor="end" font-family="'Liberation Sans', 'DejaVu Sans', sans-serif" font-weight="bold" font-size="52">div</text>
<defs><clipPath id="insclip"><rect x="532.6" y="99.80000000000001" width="602.6" height="474.59999999999997"/></clipPath></defs>
<path d="M532.60,564.37 L617.26,564.26 L701.91,563.97 L786.57,562.66 L828.90,560.34 L871.23,554.84 L892.39,551.36 L913.56,546.29 L934.72,541.22 L955.89,534.99 L977.05,527.46 L998.21,513.55 L1019.38,490.81 L1040.54,455.17 L1061.71,403.89 L1082.87,329.72 L1104.04,251.49 L1125.20,152.98" fill="none" stroke="#ff0000" stroke-width="9.3" stroke-linejoin="round" clip-path="url(#insclip)"/>
<line x1="617.26" y1="564.4" x2="617.26" y2="545.3" stroke="#000" stroke-width="3.2"/>
<line x1="617.26" y1="129.8" x2="617.26" y2="149.4" stroke="#000" stroke-width="3.2"/>
<line x1="701.91" y1="564.4" x2="701.91" y2="545.3" stroke="#000" stroke-width="3.2"/>
<line x1="701.91" y1="129.8" x2="701.91" y2="149.4" stroke="#000" stroke-width="3.2"/>
<line x1="786.57" y1="564.4" x2="786.57" y2="545.3" stroke="#000" stroke-width="3.2"/>
<line x1="786.57" y1="129.8" x2="786.57" y2="149.4" stroke="#000" stroke-width="3.2"/>
<line x1="871.23" y1="564.4" x2="871.23" y2="545.3" stroke="#000" stroke-width="3.2"/>
<line x1="871.23" y1="129.8" x2="871.23" y2="149.4" stroke="#000" stroke-width="3.2"/>
<line x1="955.89" y1="564.4" x2="955.89" y2="545.3" stroke="#000" stroke-width="3.2"/>
<line x1="955.89" y1="129.8" x2="955.89" y2="149.4" stroke="#000" stroke-width="3.2"/>
<line x1="1040.54" y1="564.4" x2="1040.54" y2="545.3" stroke="#000" stroke-width="3.2"/>
<line x1="1040.54" y1="129.8" x2="1040.54" y2="149.4" stroke="#000" stroke-width="3.2"/>
<line x1="532.6" y1="491.97" x2="553.10" y2="491.97" stroke="#000" stroke-width="3.2"/>
<line x1="1125.2" y1="491.97" x2="1104.70" y2="491.97" stroke="#000" stroke-width="3.2"/>
<line x1="532.6" y1="419.53" x2="553.10" y2="419.53" stroke="#000" stroke-width="3.2"/>
<line x1="1125.2" y1="419.53" x2="1104.70" y2="419.53" stroke="#000" stroke-width="3.2"/>
<line x1="532.6" y1="347.10" x2="553.10" y2="347.10" stroke="#000" stroke-width="3.2"/>
<line x1="1125.2" y1="347.10" x2="1104.70" y2="347.10" stroke="#000" stroke-width="3.2"/>
<line x1="532.6" y1="274.67" x2="553.10" y2="274.67" stroke="#000" stroke-width="3.2"/>
<line x1="1125.2" y1="274.67" x2="1104.70" y2="274.67" stroke="#000" stroke-width="3.2"/>
<line x1="532.6" y1="202.23" x2="553.10" y2="202.23" stroke="#000" stroke-width="3.2"/>
<line x1="1125.2" y1="202.23" x2="1104.70" y2="202.23" stroke="#000" stroke-width="3.2"/>
<rect x="532.6" y="129.8" width="592.6" height="434.59999999999997" fill="none" stroke="#000" stroke-width="4"/>
<text x="538.20" y="641.3" font-family="'Liberation Sans', 'DejaVu Sans', sans-serif" font-weight="bold" font-size="38.5" text-anchor="middle">80</text>
<text x="622.86" y="641.3" font-family="'Liberation Sans', 'DejaVu Sans', sans-serif" font-weight="bold" font-size="38.5" text-anchor="middle">100</text>
<text x="707.51" y="641.3" font-family="'Liberation Sans', 'DejaVu Sans', sans-serif" font-weight="bold" font-size="38.5" text-anchor="middle">120</text>
<text x="792.17" y="641.3" font-family="'Liberation Sans', 'DejaVu Sans', sans-serif" font-weight="bold" font-size="38.5" text-anchor="middle">140</text>
<text x="876.83" y="641.3" font-family="'Liberation Sans', 'DejaVu Sans', sans-serif" font-weight="bold" font-size="38.5" text-anchor="middle">160</text>
<text x="961.49" y="641.3" font-family="'Liberation Sans', 'DejaVu Sans', sans-serif" font-weight="bold" font-size="38.5" text-anchor="middle">180</text>
<text x="1046.14" y="641.3" font-family="'Liberation Sans', 'DejaVu Sans', sans-serif" font-weight="bold" font-size="38.5" text-anchor="middle">200</text>
<text x="1130.80" y="641.3" font-family="'Liberation Sans', 'DejaVu Sans', sans-serif" font-weight="bold" font-size="38.5" text-anchor="middle">220</text>
<text x="492.6" y="577.90" font-family="'Liberation Sans', 'DejaVu Sans', sans-serif" font-weight="bold" font-size="38.5" text-anchor="end">0</text>
<text x="492.6" y="505.47" font-family="'Liberation Sans', 'DejaVu Sans', sans-serif" font-weight="bold" font-size="38.5" text-anchor="end">0.005</text>
<text x="492.6" y="433.03" font-family="'Liberation Sans', 'DejaVu Sans', sans-serif" font-weight="bold" font-size="38.5" text-anchor="end">0.01</text>
<text x="492.6" y="360.60" font-family="'Liberation Sans', 'DejaVu Sans', sans-serif" font-weight="bold" font-size="38.5" text-anchor="end">0.015</text>
<text x="492.6" y="288.17" font-family="'Liberation Sans', 'DejaVu Sans', sans-serif" font-weight="bold" font-size="38.5" text-anchor="end">0.02</text>
<text x="492.6" y="215.73" font-family="'Liberation Sans', 'DejaVu Sans', sans-serif" font-weight="bold" font-size="38.5" text-anchor="end">0.025</text>
<text x="492.6" y="143.30" font-family="'Liberation Sans', 'DejaVu Sans', sans-serif" font-weight="bold" font-size="38.5" text-anchor="end">0.03</text>
<text x="600.2" y="215.1" font-family="'Liberation Sans', 'DejaVu Sans', sans-serif" font-weight="bold" font-size="42">2-flavor(</text>
<text transform="translate(0,215.1) scale(1.18,1)" x="648.47" y="0" font-family="'Liberation Serif', 'DejaVu Serif', serif" font-size="41.4">Γ</text>
<text x="792.2" y="215.1" font-family="'Liberation Sans', 'DejaVu Sans', sans-serif" font-weight="bold" font-size="42">=100MeV)</text>
</svg></body></html>
